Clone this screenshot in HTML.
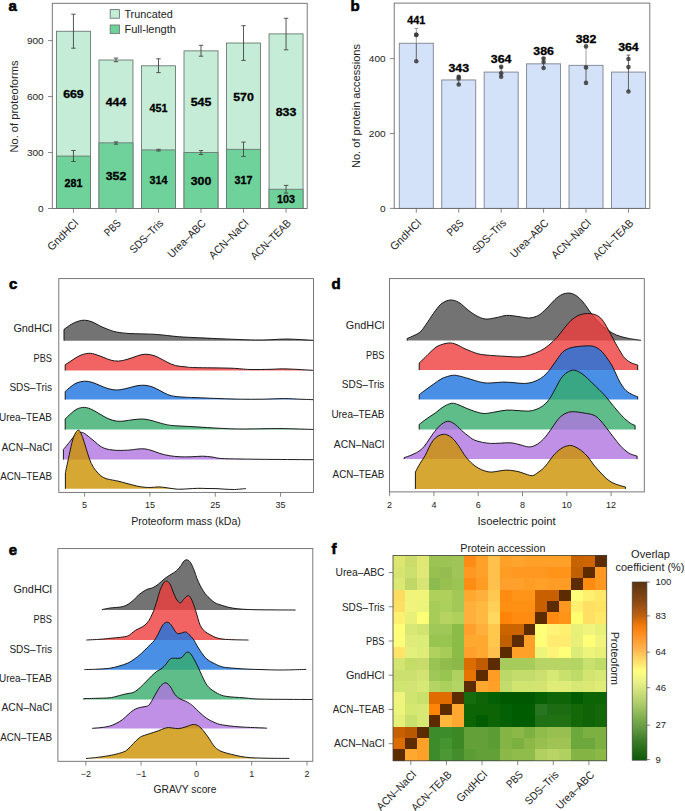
<!DOCTYPE html>
<html><head><meta charset="utf-8"><title>Figure</title>
<style>html,body{margin:0;padding:0;background:#fff;overflow:hidden;} svg{display:block;} text{font-family:"Liberation Sans",sans-serif;}</style>
</head><body>
<svg width="685" height="811" viewBox="0 0 685 811" font-family='"Liberation Sans", sans-serif'><text x="8.6" y="10.9" font-size="15" font-weight="bold" fill="#000" stroke="#000" stroke-width="0.6">a</text>
<text x="350.6" y="10.8" font-size="15" font-weight="bold" fill="#000" stroke="#000" stroke-width="0.6">b</text>
<text x="9.0" y="288.6" font-size="15" font-weight="bold" fill="#000" stroke="#000" stroke-width="0.6">c</text>
<text x="331.4" y="288.6" font-size="15" font-weight="bold" fill="#000" stroke="#000" stroke-width="0.6">d</text>
<text x="8.8" y="554.8" font-size="15" font-weight="bold" fill="#000" stroke="#000" stroke-width="0.6">e</text>
<text x="331.6" y="554.3" font-size="15" font-weight="bold" fill="#000" stroke="#000" stroke-width="0.6">f</text>
<rect x="56.45" y="31.27" width="34.00" height="177.23" fill="#c5ecd6" stroke="#6b7a72" stroke-width="0.9" />
<rect x="56.45" y="156.08" width="34.00" height="52.42" fill="#6fd29b" stroke="#6b7a72" stroke-width="0.9" />
<rect x="98.97" y="60.00" width="34.00" height="148.50" fill="#c5ecd6" stroke="#6b7a72" stroke-width="0.9" />
<rect x="98.97" y="142.83" width="34.00" height="65.67" fill="#6fd29b" stroke="#6b7a72" stroke-width="0.9" />
<rect x="141.49" y="65.78" width="34.00" height="142.72" fill="#c5ecd6" stroke="#6b7a72" stroke-width="0.9" />
<rect x="141.49" y="149.92" width="34.00" height="58.58" fill="#6fd29b" stroke="#6b7a72" stroke-width="0.9" />
<rect x="184.01" y="50.86" width="34.00" height="157.64" fill="#c5ecd6" stroke="#6b7a72" stroke-width="0.9" />
<rect x="184.01" y="152.53" width="34.00" height="55.97" fill="#6fd29b" stroke="#6b7a72" stroke-width="0.9" />
<rect x="226.53" y="43.02" width="34.00" height="165.48" fill="#c5ecd6" stroke="#6b7a72" stroke-width="0.9" />
<rect x="226.53" y="149.36" width="34.00" height="59.14" fill="#6fd29b" stroke="#6b7a72" stroke-width="0.9" />
<rect x="269.05" y="33.88" width="34.00" height="174.62" fill="#c5ecd6" stroke="#6b7a72" stroke-width="0.9" />
<rect x="269.05" y="189.28" width="34.00" height="19.22" fill="#6fd29b" stroke="#6b7a72" stroke-width="0.9" />
<line x1="73.45" y1="14.20" x2="73.45" y2="48.20" stroke="#444" stroke-width="0.9" />
<line x1="71.25" y1="14.20" x2="75.65" y2="14.20" stroke="#444" stroke-width="0.9" />
<line x1="71.25" y1="48.20" x2="75.65" y2="48.20" stroke="#444" stroke-width="0.9" />
<line x1="73.45" y1="150.50" x2="73.45" y2="161.50" stroke="#444" stroke-width="0.9" />
<line x1="71.25" y1="150.50" x2="75.65" y2="150.50" stroke="#444" stroke-width="0.9" />
<line x1="71.25" y1="161.50" x2="75.65" y2="161.50" stroke="#444" stroke-width="0.9" />
<line x1="115.97" y1="58.10" x2="115.97" y2="61.70" stroke="#444" stroke-width="0.9" />
<line x1="113.77" y1="58.10" x2="118.17" y2="58.10" stroke="#444" stroke-width="0.9" />
<line x1="113.77" y1="61.70" x2="118.17" y2="61.70" stroke="#444" stroke-width="0.9" />
<line x1="115.97" y1="141.90" x2="115.97" y2="144.20" stroke="#444" stroke-width="0.9" />
<line x1="113.77" y1="141.90" x2="118.17" y2="141.90" stroke="#444" stroke-width="0.9" />
<line x1="113.77" y1="144.20" x2="118.17" y2="144.20" stroke="#444" stroke-width="0.9" />
<line x1="158.49" y1="58.80" x2="158.49" y2="72.60" stroke="#444" stroke-width="0.9" />
<line x1="156.29" y1="58.80" x2="160.69" y2="58.80" stroke="#444" stroke-width="0.9" />
<line x1="156.29" y1="72.60" x2="160.69" y2="72.60" stroke="#444" stroke-width="0.9" />
<line x1="158.49" y1="149.30" x2="158.49" y2="151.00" stroke="#444" stroke-width="0.9" />
<line x1="156.29" y1="149.30" x2="160.69" y2="149.30" stroke="#444" stroke-width="0.9" />
<line x1="156.29" y1="151.00" x2="160.69" y2="151.00" stroke="#444" stroke-width="0.9" />
<line x1="201.01" y1="45.30" x2="201.01" y2="56.20" stroke="#444" stroke-width="0.9" />
<line x1="198.81" y1="45.30" x2="203.21" y2="45.30" stroke="#444" stroke-width="0.9" />
<line x1="198.81" y1="56.20" x2="203.21" y2="56.20" stroke="#444" stroke-width="0.9" />
<line x1="201.01" y1="150.60" x2="201.01" y2="154.50" stroke="#444" stroke-width="0.9" />
<line x1="198.81" y1="150.60" x2="203.21" y2="150.60" stroke="#444" stroke-width="0.9" />
<line x1="198.81" y1="154.50" x2="203.21" y2="154.50" stroke="#444" stroke-width="0.9" />
<line x1="243.53" y1="25.70" x2="243.53" y2="60.40" stroke="#444" stroke-width="0.9" />
<line x1="241.33" y1="25.70" x2="245.73" y2="25.70" stroke="#444" stroke-width="0.9" />
<line x1="241.33" y1="60.40" x2="245.73" y2="60.40" stroke="#444" stroke-width="0.9" />
<line x1="243.53" y1="142.10" x2="243.53" y2="156.40" stroke="#444" stroke-width="0.9" />
<line x1="241.33" y1="142.10" x2="245.73" y2="142.10" stroke="#444" stroke-width="0.9" />
<line x1="241.33" y1="156.40" x2="245.73" y2="156.40" stroke="#444" stroke-width="0.9" />
<line x1="286.05" y1="18.30" x2="286.05" y2="49.80" stroke="#444" stroke-width="0.9" />
<line x1="283.85" y1="18.30" x2="288.25" y2="18.30" stroke="#444" stroke-width="0.9" />
<line x1="283.85" y1="49.80" x2="288.25" y2="49.80" stroke="#444" stroke-width="0.9" />
<line x1="286.05" y1="185.40" x2="286.05" y2="193.10" stroke="#444" stroke-width="0.9" />
<line x1="283.85" y1="185.40" x2="288.25" y2="185.40" stroke="#444" stroke-width="0.9" />
<line x1="283.85" y1="193.10" x2="288.25" y2="193.10" stroke="#444" stroke-width="0.9" />
<text x="73.45" y="98.25" font-size="10.4" text-anchor="middle" fill="#000" font-weight="bold" textLength="20.6" lengthAdjust="spacingAndGlyphs" stroke="#000" stroke-width="0.3">669</text>
<text x="73.45" y="186.87" font-size="10.4" text-anchor="middle" fill="#000" font-weight="bold" textLength="18.0" lengthAdjust="spacingAndGlyphs" stroke="#000" stroke-width="0.3">281</text>
<text x="115.97" y="105.99" font-size="10.4" text-anchor="middle" fill="#000" font-weight="bold" textLength="20.6" lengthAdjust="spacingAndGlyphs" stroke="#000" stroke-width="0.3">444</text>
<text x="115.97" y="180.24" font-size="10.4" text-anchor="middle" fill="#000" font-weight="bold" textLength="20.6" lengthAdjust="spacingAndGlyphs" stroke="#000" stroke-width="0.3">352</text>
<text x="158.49" y="112.43" font-size="10.4" text-anchor="middle" fill="#000" font-weight="bold" textLength="18.0" lengthAdjust="spacingAndGlyphs" stroke="#000" stroke-width="0.3">451</text>
<text x="158.49" y="183.79" font-size="10.4" text-anchor="middle" fill="#000" font-weight="bold" textLength="18.0" lengthAdjust="spacingAndGlyphs" stroke="#000" stroke-width="0.3">314</text>
<text x="201.01" y="106.27" font-size="10.4" text-anchor="middle" fill="#000" font-weight="bold" textLength="20.6" lengthAdjust="spacingAndGlyphs" stroke="#000" stroke-width="0.3">545</text>
<text x="201.01" y="185.09" font-size="10.4" text-anchor="middle" fill="#000" font-weight="bold" textLength="20.6" lengthAdjust="spacingAndGlyphs" stroke="#000" stroke-width="0.3">300</text>
<text x="243.53" y="100.77" font-size="10.4" text-anchor="middle" fill="#000" font-weight="bold" textLength="20.6" lengthAdjust="spacingAndGlyphs" stroke="#000" stroke-width="0.3">570</text>
<text x="243.53" y="183.51" font-size="10.4" text-anchor="middle" fill="#000" font-weight="bold" textLength="18.0" lengthAdjust="spacingAndGlyphs" stroke="#000" stroke-width="0.3">317</text>
<text x="286.05" y="116.16" font-size="10.4" text-anchor="middle" fill="#000" font-weight="bold" textLength="20.6" lengthAdjust="spacingAndGlyphs" stroke="#000" stroke-width="0.3">833</text>
<text x="286.05" y="203.47" font-size="10.4" text-anchor="middle" fill="#000" font-weight="bold" textLength="18.0" lengthAdjust="spacingAndGlyphs" stroke="#000" stroke-width="0.3">103</text>
<rect x="52.30" y="3.30" width="254.90" height="205.20" fill="none" stroke="#6a6a6a" stroke-width="0.9" />
<line x1="48.00" y1="208.50" x2="52.30" y2="208.50" stroke="#6a6a6a" stroke-width="0.8" />
<text x="43.70" y="211.87" font-size="9.8" text-anchor="end" fill="#222" textLength="5.6" lengthAdjust="spacingAndGlyphs" >0</text>
<line x1="48.00" y1="152.53" x2="52.30" y2="152.53" stroke="#6a6a6a" stroke-width="0.8" />
<text x="43.70" y="155.90" font-size="9.8" text-anchor="end" fill="#222" textLength="16.799999999999997" lengthAdjust="spacingAndGlyphs" >300</text>
<line x1="48.00" y1="96.56" x2="52.30" y2="96.56" stroke="#6a6a6a" stroke-width="0.8" />
<text x="43.70" y="99.94" font-size="9.8" text-anchor="end" fill="#222" textLength="16.799999999999997" lengthAdjust="spacingAndGlyphs" >600</text>
<line x1="48.00" y1="40.60" x2="52.30" y2="40.60" stroke="#6a6a6a" stroke-width="0.8" />
<text x="43.70" y="43.97" font-size="9.8" text-anchor="end" fill="#222" textLength="16.799999999999997" lengthAdjust="spacingAndGlyphs" >900</text>
<line x1="73.45" y1="208.50" x2="73.45" y2="212.80" stroke="#6a6a6a" stroke-width="0.8" />
<line x1="115.97" y1="208.50" x2="115.97" y2="212.80" stroke="#6a6a6a" stroke-width="0.8" />
<line x1="158.49" y1="208.50" x2="158.49" y2="212.80" stroke="#6a6a6a" stroke-width="0.8" />
<line x1="201.01" y1="208.50" x2="201.01" y2="212.80" stroke="#6a6a6a" stroke-width="0.8" />
<line x1="243.53" y1="208.50" x2="243.53" y2="212.80" stroke="#6a6a6a" stroke-width="0.8" />
<line x1="286.05" y1="208.50" x2="286.05" y2="212.80" stroke="#6a6a6a" stroke-width="0.8" />
<text x="14.00" y="110.18" font-size="10.7" text-anchor="middle" fill="#222" textLength="92" lengthAdjust="spacingAndGlyphs" transform="rotate(-90 14.00 106.50)" >No. of proteoforms</text>
<rect x="110.20" y="9.60" width="9.20" height="8.60" fill="#c5ecd6" stroke="#6b7a72" stroke-width="0.9" />
<rect x="110.20" y="25.00" width="9.20" height="8.60" fill="#6fd29b" stroke="#6b7a72" stroke-width="0.9" />
<text x="124.40" y="17.58" font-size="10.7" text-anchor="start" fill="#222" textLength="48.4" lengthAdjust="spacingAndGlyphs" >Truncated</text>
<text x="124.40" y="32.98" font-size="10.7" text-anchor="start" fill="#222" textLength="51.6" lengthAdjust="spacingAndGlyphs" >Full-length</text>
<text x="79.05" y="223.90" font-size="11.0" text-anchor="end" fill="#222" textLength="38.6" lengthAdjust="spacingAndGlyphs" transform="rotate(-45 79.05 223.90)">GndHCl</text>
<text x="121.57" y="223.90" font-size="11.0" text-anchor="end" fill="#222" textLength="18.4" lengthAdjust="spacingAndGlyphs" transform="rotate(-45 121.57 223.90)">PBS</text>
<text x="164.09" y="223.90" font-size="11.0" text-anchor="end" fill="#222" textLength="42.6" lengthAdjust="spacingAndGlyphs" transform="rotate(-45 164.09 223.90)">SDS–Tris</text>
<text x="206.61" y="223.90" font-size="11.0" text-anchor="end" fill="#222" textLength="49.0" lengthAdjust="spacingAndGlyphs" transform="rotate(-45 206.61 223.90)">Urea–ABC</text>
<text x="249.13" y="223.90" font-size="11.0" text-anchor="end" fill="#222" textLength="50.6" lengthAdjust="spacingAndGlyphs" transform="rotate(-45 249.13 223.90)">ACN–NaCl</text>
<text x="291.65" y="223.90" font-size="11.0" text-anchor="end" fill="#222" textLength="51.8" lengthAdjust="spacingAndGlyphs" transform="rotate(-45 291.65 223.90)">ACN–TEAB</text>
<rect x="399.30" y="43.25" width="34.00" height="165.15" fill="#d3e1f9" stroke="#7d8290" stroke-width="0.9" />
<rect x="441.73" y="79.95" width="34.00" height="128.45" fill="#d3e1f9" stroke="#7d8290" stroke-width="0.9" />
<rect x="484.16" y="72.08" width="34.00" height="136.32" fill="#d3e1f9" stroke="#7d8290" stroke-width="0.9" />
<rect x="526.59" y="63.84" width="34.00" height="144.56" fill="#d3e1f9" stroke="#7d8290" stroke-width="0.9" />
<rect x="569.02" y="65.34" width="34.00" height="143.06" fill="#d3e1f9" stroke="#7d8290" stroke-width="0.9" />
<rect x="611.45" y="72.08" width="34.00" height="136.32" fill="#d3e1f9" stroke="#7d8290" stroke-width="0.9" />
<line x1="416.30" y1="28.40" x2="416.30" y2="43.25" stroke="#a0a0a0" stroke-width="1.0" />
<line x1="416.30" y1="43.25" x2="416.30" y2="61.30" stroke="#555" stroke-width="0.9" />
<line x1="414.50" y1="28.40" x2="418.10" y2="28.40" stroke="#888" stroke-width="0.9" />
<circle cx="416.30" cy="34.70" r="2.3" fill="#3a3a3a" fill-opacity="0.85"/>
<circle cx="416.30" cy="34.90" r="2.3" fill="#3a3a3a" fill-opacity="0.85"/>
<circle cx="416.30" cy="61.30" r="2.3" fill="#3a3a3a" fill-opacity="0.85"/>
<text x="416.30" y="23.98" font-size="10.4" text-anchor="middle" fill="#000" font-weight="bold" textLength="18.0" lengthAdjust="spacingAndGlyphs" stroke="#000" stroke-width="0.3">441</text>
<line x1="458.73" y1="76.00" x2="458.73" y2="84.50" stroke="#555" stroke-width="0.9" />
<line x1="456.93" y1="76.00" x2="460.53" y2="76.00" stroke="#555" stroke-width="0.9" />
<circle cx="458.73" cy="76.90" r="2.3" fill="#3a3a3a" fill-opacity="0.85"/>
<circle cx="458.73" cy="78.50" r="2.3" fill="#3a3a3a" fill-opacity="0.85"/>
<circle cx="458.73" cy="84.50" r="2.3" fill="#3a3a3a" fill-opacity="0.85"/>
<text x="458.73" y="71.98" font-size="10.4" text-anchor="middle" fill="#000" font-weight="bold" textLength="20.6" lengthAdjust="spacingAndGlyphs" stroke="#000" stroke-width="0.3">343</text>
<line x1="501.16" y1="66.90" x2="501.16" y2="76.70" stroke="#555" stroke-width="0.9" />
<line x1="499.36" y1="66.90" x2="502.96" y2="66.90" stroke="#555" stroke-width="0.9" />
<circle cx="501.16" cy="66.90" r="2.3" fill="#3a3a3a" fill-opacity="0.85"/>
<circle cx="501.16" cy="73.20" r="2.3" fill="#3a3a3a" fill-opacity="0.85"/>
<circle cx="501.16" cy="76.70" r="2.3" fill="#3a3a3a" fill-opacity="0.85"/>
<text x="501.16" y="62.98" font-size="10.4" text-anchor="middle" fill="#000" font-weight="bold" textLength="20.6" lengthAdjust="spacingAndGlyphs" stroke="#000" stroke-width="0.3">364</text>
<line x1="543.59" y1="57.60" x2="543.59" y2="68.00" stroke="#555" stroke-width="0.9" />
<line x1="541.79" y1="57.60" x2="545.39" y2="57.60" stroke="#555" stroke-width="0.9" />
<circle cx="543.59" cy="58.60" r="2.3" fill="#3a3a3a" fill-opacity="0.85"/>
<circle cx="543.59" cy="62.10" r="2.3" fill="#3a3a3a" fill-opacity="0.85"/>
<circle cx="543.59" cy="68.00" r="2.3" fill="#3a3a3a" fill-opacity="0.85"/>
<text x="543.59" y="55.18" font-size="10.4" text-anchor="middle" fill="#000" font-weight="bold" textLength="20.6" lengthAdjust="spacingAndGlyphs" stroke="#000" stroke-width="0.3">386</text>
<line x1="586.02" y1="46.40" x2="586.02" y2="65.34" stroke="#a0a0a0" stroke-width="1.0" />
<line x1="586.02" y1="65.34" x2="586.02" y2="82.90" stroke="#555" stroke-width="0.9" />
<line x1="584.22" y1="46.40" x2="587.82" y2="46.40" stroke="#888" stroke-width="0.9" />
<circle cx="586.02" cy="46.40" r="2.3" fill="#3a3a3a" fill-opacity="0.85"/>
<circle cx="586.02" cy="67.40" r="2.3" fill="#3a3a3a" fill-opacity="0.85"/>
<circle cx="586.02" cy="82.90" r="2.3" fill="#3a3a3a" fill-opacity="0.85"/>
<text x="586.02" y="42.78" font-size="10.4" text-anchor="middle" fill="#000" font-weight="bold" textLength="20.6" lengthAdjust="spacingAndGlyphs" stroke="#000" stroke-width="0.3">382</text>
<line x1="628.45" y1="55.10" x2="628.45" y2="91.50" stroke="#555" stroke-width="0.9" />
<line x1="626.65" y1="55.10" x2="630.25" y2="55.10" stroke="#555" stroke-width="0.9" />
<circle cx="628.45" cy="59.00" r="2.3" fill="#3a3a3a" fill-opacity="0.85"/>
<circle cx="628.45" cy="67.10" r="2.3" fill="#3a3a3a" fill-opacity="0.85"/>
<circle cx="628.45" cy="91.50" r="2.3" fill="#3a3a3a" fill-opacity="0.85"/>
<text x="628.45" y="51.08" font-size="10.4" text-anchor="middle" fill="#000" font-weight="bold" textLength="20.6" lengthAdjust="spacingAndGlyphs" stroke="#000" stroke-width="0.3">364</text>
<rect x="394.20" y="3.10" width="255.60" height="205.30" fill="none" stroke="#6a6a6a" stroke-width="0.9" />
<line x1="389.90" y1="208.40" x2="394.20" y2="208.40" stroke="#6a6a6a" stroke-width="0.8" />
<text x="385.60" y="211.77" font-size="9.8" text-anchor="end" fill="#222" textLength="5.6" lengthAdjust="spacingAndGlyphs" >0</text>
<line x1="389.90" y1="133.50" x2="394.20" y2="133.50" stroke="#6a6a6a" stroke-width="0.8" />
<text x="385.60" y="136.87" font-size="9.8" text-anchor="end" fill="#222" textLength="16.799999999999997" lengthAdjust="spacingAndGlyphs" >200</text>
<line x1="389.90" y1="58.60" x2="394.20" y2="58.60" stroke="#6a6a6a" stroke-width="0.8" />
<text x="385.60" y="61.97" font-size="9.8" text-anchor="end" fill="#222" textLength="16.799999999999997" lengthAdjust="spacingAndGlyphs" >400</text>
<line x1="416.30" y1="208.40" x2="416.30" y2="212.70" stroke="#6a6a6a" stroke-width="0.8" />
<line x1="458.73" y1="208.40" x2="458.73" y2="212.70" stroke="#6a6a6a" stroke-width="0.8" />
<line x1="501.16" y1="208.40" x2="501.16" y2="212.70" stroke="#6a6a6a" stroke-width="0.8" />
<line x1="543.59" y1="208.40" x2="543.59" y2="212.70" stroke="#6a6a6a" stroke-width="0.8" />
<line x1="586.02" y1="208.40" x2="586.02" y2="212.70" stroke="#6a6a6a" stroke-width="0.8" />
<line x1="628.45" y1="208.40" x2="628.45" y2="212.70" stroke="#6a6a6a" stroke-width="0.8" />
<text x="356.30" y="109.68" font-size="10.7" text-anchor="middle" fill="#222" textLength="124" lengthAdjust="spacingAndGlyphs" transform="rotate(-90 356.30 106.00)" >No. of protein accessions</text>
<text x="421.90" y="223.80" font-size="11.0" text-anchor="end" fill="#222" textLength="38.6" lengthAdjust="spacingAndGlyphs" transform="rotate(-45 421.90 223.80)">GndHCl</text>
<text x="464.33" y="223.80" font-size="11.0" text-anchor="end" fill="#222" textLength="18.4" lengthAdjust="spacingAndGlyphs" transform="rotate(-45 464.33 223.80)">PBS</text>
<text x="506.76" y="223.80" font-size="11.0" text-anchor="end" fill="#222" textLength="42.6" lengthAdjust="spacingAndGlyphs" transform="rotate(-45 506.76 223.80)">SDS–Tris</text>
<text x="549.19" y="223.80" font-size="11.0" text-anchor="end" fill="#222" textLength="49.0" lengthAdjust="spacingAndGlyphs" transform="rotate(-45 549.19 223.80)">Urea–ABC</text>
<text x="591.62" y="223.80" font-size="11.0" text-anchor="end" fill="#222" textLength="50.6" lengthAdjust="spacingAndGlyphs" transform="rotate(-45 591.62 223.80)">ACN–NaCl</text>
<text x="634.05" y="223.80" font-size="11.0" text-anchor="end" fill="#222" textLength="51.8" lengthAdjust="spacingAndGlyphs" transform="rotate(-45 634.05 223.80)">ACN–TEAB</text>
<clipPath id="clipc"><rect x="58.8" y="278.6" width="254.7" height="213.79999999999995"/></clipPath>
<path d="M64.00,340.70 L64.00,329.40 C65.22,328.55 68.97,325.65 71.30,324.30 C73.63,322.95 75.78,321.98 78.00,321.30 C80.22,320.62 82.27,320.12 84.60,320.20 C86.93,320.28 89.43,320.83 92.00,321.80 C94.57,322.77 97.32,324.73 100.00,326.00 C102.68,327.27 105.38,328.40 108.10,329.40 C110.82,330.40 112.82,331.32 116.30,332.00 C119.78,332.68 124.57,333.18 129.00,333.50 C133.43,333.82 138.20,333.73 142.90,333.90 C147.60,334.07 151.42,334.05 157.20,334.50 C162.98,334.95 171.30,336.08 177.60,336.60 C183.90,337.12 186.10,337.17 195.00,337.60 C203.90,338.03 220.90,338.80 231.00,339.20 C241.10,339.60 248.93,339.92 255.60,340.00 C262.27,340.08 265.88,339.87 271.00,339.70 C276.12,339.53 281.47,339.02 286.30,339.00 C291.13,338.98 295.30,339.37 300.00,339.60 C304.70,339.83 312.08,340.27 314.50,340.40 L314.50,340.70 Z" fill="rgb(80,80,80)" fill-opacity="0.8" stroke="none" clip-path="url(#clipc)"/>
<path d="M64.00,340.70 L64.00,329.40 C65.22,328.55 68.97,325.65 71.30,324.30 C73.63,322.95 75.78,321.98 78.00,321.30 C80.22,320.62 82.27,320.12 84.60,320.20 C86.93,320.28 89.43,320.83 92.00,321.80 C94.57,322.77 97.32,324.73 100.00,326.00 C102.68,327.27 105.38,328.40 108.10,329.40 C110.82,330.40 112.82,331.32 116.30,332.00 C119.78,332.68 124.57,333.18 129.00,333.50 C133.43,333.82 138.20,333.73 142.90,333.90 C147.60,334.07 151.42,334.05 157.20,334.50 C162.98,334.95 171.30,336.08 177.60,336.60 C183.90,337.12 186.10,337.17 195.00,337.60 C203.90,338.03 220.90,338.80 231.00,339.20 C241.10,339.60 248.93,339.92 255.60,340.00 C262.27,340.08 265.88,339.87 271.00,339.70 C276.12,339.53 281.47,339.02 286.30,339.00 C291.13,338.98 295.30,339.37 300.00,339.60 C304.70,339.83 312.08,340.27 314.50,340.40 L314.50,340.70" fill="none" stroke="#111" stroke-width="0.95" stroke-linejoin="round" clip-path="url(#clipc)"/>
<path d="M65.20,370.50 L65.20,364.80 C66.33,364.05 69.53,361.85 72.00,360.30 C74.47,358.75 77.22,356.67 80.00,355.50 C82.78,354.33 86.03,353.45 88.70,353.30 C91.37,353.15 93.45,353.88 96.00,354.60 C98.55,355.32 101.50,356.67 104.00,357.60 C106.50,358.53 108.60,359.62 111.00,360.20 C113.40,360.78 115.90,361.18 118.40,361.10 C120.90,361.02 123.40,360.37 126.00,359.70 C128.60,359.03 131.50,357.92 134.00,357.10 C136.50,356.28 138.83,355.27 141.00,354.80 C143.17,354.33 144.83,354.17 147.00,354.30 C149.17,354.43 151.67,354.83 154.00,355.60 C156.33,356.37 158.67,357.73 161.00,358.90 C163.33,360.07 165.57,361.48 168.00,362.60 C170.43,363.72 172.77,364.90 175.60,365.60 C178.43,366.30 181.77,366.47 185.00,366.80 C188.23,367.13 187.33,367.37 195.00,367.60 C202.67,367.83 221.83,367.88 231.00,368.20 C240.17,368.52 243.50,369.32 250.00,369.50 C256.50,369.68 264.00,369.40 270.00,369.30 C276.00,369.20 278.58,368.72 286.00,368.90 C293.42,369.08 309.75,370.15 314.50,370.40 L314.50,370.50 Z" fill="rgb(239,61,61)" fill-opacity="0.8" stroke="none" clip-path="url(#clipc)"/>
<path d="M65.20,370.50 L65.20,364.80 C66.33,364.05 69.53,361.85 72.00,360.30 C74.47,358.75 77.22,356.67 80.00,355.50 C82.78,354.33 86.03,353.45 88.70,353.30 C91.37,353.15 93.45,353.88 96.00,354.60 C98.55,355.32 101.50,356.67 104.00,357.60 C106.50,358.53 108.60,359.62 111.00,360.20 C113.40,360.78 115.90,361.18 118.40,361.10 C120.90,361.02 123.40,360.37 126.00,359.70 C128.60,359.03 131.50,357.92 134.00,357.10 C136.50,356.28 138.83,355.27 141.00,354.80 C143.17,354.33 144.83,354.17 147.00,354.30 C149.17,354.43 151.67,354.83 154.00,355.60 C156.33,356.37 158.67,357.73 161.00,358.90 C163.33,360.07 165.57,361.48 168.00,362.60 C170.43,363.72 172.77,364.90 175.60,365.60 C178.43,366.30 181.77,366.47 185.00,366.80 C188.23,367.13 187.33,367.37 195.00,367.60 C202.67,367.83 221.83,367.88 231.00,368.20 C240.17,368.52 243.50,369.32 250.00,369.50 C256.50,369.68 264.00,369.40 270.00,369.30 C276.00,369.20 278.58,368.72 286.00,368.90 C293.42,369.08 309.75,370.15 314.50,370.40 L314.50,370.50" fill="none" stroke="#111" stroke-width="0.95" stroke-linejoin="round" clip-path="url(#clipc)"/>
<path d="M65.20,399.60 L65.20,391.50 C66.17,390.67 69.03,387.95 71.00,386.50 C72.97,385.05 74.73,383.68 77.00,382.80 C79.27,381.92 82.10,381.28 84.60,381.20 C87.10,381.12 89.43,381.58 92.00,382.30 C94.57,383.02 97.33,384.45 100.00,385.50 C102.67,386.55 105.28,387.85 108.00,388.60 C110.72,389.35 113.63,389.93 116.30,390.00 C118.97,390.07 121.38,389.50 124.00,389.00 C126.62,388.50 129.67,387.57 132.00,387.00 C134.33,386.43 135.83,385.88 138.00,385.60 C140.17,385.32 142.67,385.10 145.00,385.30 C147.33,385.50 149.50,385.92 152.00,386.80 C154.50,387.68 157.67,389.43 160.00,390.60 C162.33,391.77 163.75,392.87 166.00,393.80 C168.25,394.73 170.33,395.63 173.50,396.20 C176.67,396.77 181.42,396.97 185.00,397.20 C188.58,397.43 189.17,397.37 195.00,397.60 C200.83,397.83 212.28,398.33 220.00,398.60 C227.72,398.87 234.30,399.10 241.30,399.20 C248.30,399.30 254.85,399.30 262.00,399.20 C269.15,399.10 277.87,398.60 284.20,398.60 C290.53,398.60 294.95,399.03 300.00,399.20 C305.05,399.37 312.08,399.53 314.50,399.60 L314.50,399.60 Z" fill="rgb(28,115,224)" fill-opacity="0.8" stroke="none" clip-path="url(#clipc)"/>
<path d="M65.20,399.60 L65.20,391.50 C66.17,390.67 69.03,387.95 71.00,386.50 C72.97,385.05 74.73,383.68 77.00,382.80 C79.27,381.92 82.10,381.28 84.60,381.20 C87.10,381.12 89.43,381.58 92.00,382.30 C94.57,383.02 97.33,384.45 100.00,385.50 C102.67,386.55 105.28,387.85 108.00,388.60 C110.72,389.35 113.63,389.93 116.30,390.00 C118.97,390.07 121.38,389.50 124.00,389.00 C126.62,388.50 129.67,387.57 132.00,387.00 C134.33,386.43 135.83,385.88 138.00,385.60 C140.17,385.32 142.67,385.10 145.00,385.30 C147.33,385.50 149.50,385.92 152.00,386.80 C154.50,387.68 157.67,389.43 160.00,390.60 C162.33,391.77 163.75,392.87 166.00,393.80 C168.25,394.73 170.33,395.63 173.50,396.20 C176.67,396.77 181.42,396.97 185.00,397.20 C188.58,397.43 189.17,397.37 195.00,397.60 C200.83,397.83 212.28,398.33 220.00,398.60 C227.72,398.87 234.30,399.10 241.30,399.20 C248.30,399.30 254.85,399.30 262.00,399.20 C269.15,399.10 277.87,398.60 284.20,398.60 C290.53,398.60 294.95,399.02 300.00,399.20 C305.05,399.38 312.08,399.62 314.50,399.70 L314.50,399.60" fill="none" stroke="#111" stroke-width="0.95" stroke-linejoin="round" clip-path="url(#clipc)"/>
<path d="M65.20,429.60 L65.20,419.00 C66.17,418.08 69.03,415.17 71.00,413.50 C72.97,411.83 74.73,410.02 77.00,409.00 C79.27,407.98 82.10,407.30 84.60,407.40 C87.10,407.50 89.43,408.47 92.00,409.60 C94.57,410.73 97.33,412.70 100.00,414.20 C102.67,415.70 105.28,417.45 108.00,418.60 C110.72,419.75 113.63,420.70 116.30,421.10 C118.97,421.50 121.22,421.23 124.00,421.00 C126.78,420.77 129.85,420.03 133.00,419.70 C136.15,419.37 139.90,418.88 142.90,419.00 C145.90,419.12 148.15,419.73 151.00,420.40 C153.85,421.07 157.50,422.32 160.00,423.00 C162.50,423.68 163.75,424.07 166.00,424.50 C168.25,424.93 168.67,425.22 173.50,425.60 C178.33,425.98 187.25,426.35 195.00,426.80 C202.75,427.25 212.33,427.93 220.00,428.30 C227.67,428.67 231.00,428.95 241.00,429.00 C251.00,429.05 267.75,428.52 280.00,428.60 C292.25,428.68 308.75,429.35 314.50,429.50 L314.50,429.60 Z" fill="rgb(54,172,106)" fill-opacity="0.8" stroke="none" clip-path="url(#clipc)"/>
<path d="M65.20,429.60 L65.20,419.00 C66.17,418.08 69.03,415.17 71.00,413.50 C72.97,411.83 74.73,410.02 77.00,409.00 C79.27,407.98 82.10,407.30 84.60,407.40 C87.10,407.50 89.43,408.47 92.00,409.60 C94.57,410.73 97.33,412.70 100.00,414.20 C102.67,415.70 105.28,417.45 108.00,418.60 C110.72,419.75 113.63,420.70 116.30,421.10 C118.97,421.50 121.22,421.23 124.00,421.00 C126.78,420.77 129.85,420.03 133.00,419.70 C136.15,419.37 139.90,418.88 142.90,419.00 C145.90,419.12 148.15,419.73 151.00,420.40 C153.85,421.07 157.50,422.32 160.00,423.00 C162.50,423.68 163.75,424.07 166.00,424.50 C168.25,424.93 168.67,425.22 173.50,425.60 C178.33,425.98 187.25,426.35 195.00,426.80 C202.75,427.25 212.33,427.93 220.00,428.30 C227.67,428.67 231.00,428.95 241.00,429.00 C251.00,429.05 267.75,428.52 280.00,428.60 C292.25,428.68 308.75,429.35 314.50,429.50 L314.50,429.60" fill="none" stroke="#111" stroke-width="0.95" stroke-linejoin="round" clip-path="url(#clipc)"/>
<path d="M63.40,459.60 L63.40,449.50 C64.25,448.48 66.85,445.43 68.50,443.40 C70.15,441.37 71.80,438.97 73.30,437.30 C74.80,435.63 76.18,434.22 77.50,433.40 C78.82,432.58 80.07,432.42 81.20,432.40 C82.33,432.38 82.92,432.48 84.30,433.30 C85.68,434.12 87.75,435.92 89.50,437.30 C91.25,438.68 93.05,440.15 94.80,441.60 C96.55,443.05 97.97,444.75 100.00,446.00 C102.03,447.25 104.00,448.37 107.00,449.10 C110.00,449.83 114.17,450.25 118.00,450.40 C121.83,450.55 126.67,450.23 130.00,450.00 C133.33,449.77 135.52,449.18 138.00,449.00 C140.48,448.82 142.57,448.63 144.90,448.90 C147.23,449.17 149.48,449.83 152.00,450.60 C154.52,451.37 157.10,452.65 160.00,453.50 C162.90,454.35 166.07,455.15 169.40,455.70 C172.73,456.25 176.40,456.62 180.00,456.80 C183.60,456.98 187.25,456.90 191.00,456.80 C194.75,456.70 199.00,456.17 202.50,456.20 C206.00,456.23 208.93,456.62 212.00,457.00 C215.07,457.38 216.23,458.17 220.90,458.50 C225.57,458.83 231.82,458.85 240.00,459.00 C248.18,459.15 257.58,459.30 270.00,459.40 C282.42,459.50 307.08,459.57 314.50,459.60 L314.50,459.60 Z" fill="rgb(176,116,224)" fill-opacity="0.8" stroke="none" clip-path="url(#clipc)"/>
<path d="M63.40,459.60 L63.40,449.50 C64.25,448.48 66.85,445.43 68.50,443.40 C70.15,441.37 71.80,438.97 73.30,437.30 C74.80,435.63 76.18,434.22 77.50,433.40 C78.82,432.58 80.07,432.42 81.20,432.40 C82.33,432.38 82.92,432.48 84.30,433.30 C85.68,434.12 87.75,435.92 89.50,437.30 C91.25,438.68 93.05,440.15 94.80,441.60 C96.55,443.05 97.97,444.75 100.00,446.00 C102.03,447.25 104.00,448.37 107.00,449.10 C110.00,449.83 114.17,450.25 118.00,450.40 C121.83,450.55 126.67,450.23 130.00,450.00 C133.33,449.77 135.52,449.18 138.00,449.00 C140.48,448.82 142.57,448.63 144.90,448.90 C147.23,449.17 149.48,449.83 152.00,450.60 C154.52,451.37 157.10,452.65 160.00,453.50 C162.90,454.35 166.07,455.15 169.40,455.70 C172.73,456.25 176.40,456.62 180.00,456.80 C183.60,456.98 187.25,456.90 191.00,456.80 C194.75,456.70 199.00,456.17 202.50,456.20 C206.00,456.23 208.93,456.62 212.00,457.00 C215.07,457.38 216.23,458.17 220.90,458.50 C225.57,458.83 231.82,458.85 240.00,459.00 C248.18,459.15 257.58,459.28 270.00,459.40 C282.42,459.52 307.08,459.65 314.50,459.70 L314.50,459.60" fill="none" stroke="#111" stroke-width="0.95" stroke-linejoin="round" clip-path="url(#clipc)"/>
<path d="M65.40,488.80 L65.40,472.70 C65.92,470.30 67.40,463.33 68.50,458.30 C69.60,453.27 70.98,446.45 72.00,442.50 C73.02,438.55 73.55,436.67 74.60,434.60 C75.65,432.53 77.20,430.23 78.30,430.10 C79.40,429.97 80.20,431.73 81.20,433.80 C82.20,435.87 83.20,439.15 84.30,442.50 C85.40,445.85 86.63,450.40 87.80,453.90 C88.97,457.40 89.98,460.73 91.30,463.50 C92.62,466.27 94.10,468.45 95.70,470.50 C97.30,472.55 99.02,474.40 100.90,475.80 C102.78,477.20 104.15,478.02 107.00,478.90 C109.85,479.78 114.67,480.33 118.00,481.10 C121.33,481.87 123.88,482.68 127.00,483.50 C130.12,484.32 133.87,485.38 136.70,486.00 C139.53,486.62 141.67,486.95 144.00,487.20 C146.33,487.45 148.23,487.55 150.70,487.50 C153.17,487.45 156.08,486.85 158.80,486.90 C161.52,486.95 163.93,487.48 167.00,487.80 C170.07,488.12 173.87,488.63 177.20,488.80 C180.53,488.97 183.58,488.88 187.00,488.80 C190.42,488.72 194.37,488.35 197.70,488.30 C201.03,488.25 203.95,488.45 207.00,488.50 C210.05,488.55 213.00,488.55 216.00,488.60 C219.00,488.65 221.92,488.77 225.00,488.80 C228.08,488.83 231.83,488.80 234.50,488.80 C237.17,488.80 239.13,488.83 241.00,488.80 C242.87,488.77 244.92,488.63 245.70,488.60 L245.70,488.80 Z" fill="rgb(204,146,0)" fill-opacity="0.8" stroke="none" clip-path="url(#clipc)"/>
<path d="M65.40,488.80 L65.40,472.70 C65.92,470.30 67.40,463.33 68.50,458.30 C69.60,453.27 70.98,446.45 72.00,442.50 C73.02,438.55 73.55,436.67 74.60,434.60 C75.65,432.53 77.20,430.23 78.30,430.10 C79.40,429.97 80.20,431.73 81.20,433.80 C82.20,435.87 83.20,439.15 84.30,442.50 C85.40,445.85 86.63,450.40 87.80,453.90 C88.97,457.40 89.98,460.73 91.30,463.50 C92.62,466.27 94.10,468.45 95.70,470.50 C97.30,472.55 99.02,474.40 100.90,475.80 C102.78,477.20 104.15,478.02 107.00,478.90 C109.85,479.78 114.67,480.33 118.00,481.10 C121.33,481.87 123.88,482.68 127.00,483.50 C130.12,484.32 133.87,485.38 136.70,486.00 C139.53,486.62 141.67,486.95 144.00,487.20 C146.33,487.45 148.23,487.55 150.70,487.50 C153.17,487.45 156.08,486.85 158.80,486.90 C161.52,486.95 163.93,487.42 167.00,487.80 C170.07,488.18 173.87,489.02 177.20,489.20 C180.53,489.38 183.58,489.05 187.00,488.90 C190.42,488.75 194.37,488.37 197.70,488.30 C201.03,488.23 203.95,488.45 207.00,488.50 C210.05,488.55 213.00,488.48 216.00,488.60 C219.00,488.72 221.92,489.05 225.00,489.20 C228.08,489.35 231.83,489.53 234.50,489.50 C237.17,489.47 239.13,489.15 241.00,489.00 C242.87,488.85 244.92,488.67 245.70,488.60 L245.70,488.80" fill="none" stroke="#111" stroke-width="0.95" stroke-linejoin="round" clip-path="url(#clipc)"/>
<rect x="58.80" y="278.60" width="254.70" height="213.80" fill="none" stroke="#6a6a6a" stroke-width="0.9" />
<text x="52.00" y="332.08" font-size="11.0" text-anchor="end" fill="#222" textLength="38.6" lengthAdjust="spacingAndGlyphs" >GndHCl</text>
<text x="52.00" y="361.88" font-size="11.0" text-anchor="end" fill="#222" textLength="18.4" lengthAdjust="spacingAndGlyphs" >PBS</text>
<text x="52.00" y="390.98" font-size="11.0" text-anchor="end" fill="#222" textLength="42.6" lengthAdjust="spacingAndGlyphs" >SDS–Tris</text>
<text x="52.00" y="420.98" font-size="11.0" text-anchor="end" fill="#222" textLength="53.0" lengthAdjust="spacingAndGlyphs" >Urea–TEAB</text>
<text x="52.00" y="450.98" font-size="11.0" text-anchor="end" fill="#222" textLength="50.6" lengthAdjust="spacingAndGlyphs" >ACN–NaCl</text>
<text x="52.00" y="480.18" font-size="11.0" text-anchor="end" fill="#222" textLength="51.8" lengthAdjust="spacingAndGlyphs" >ACN–TEAB</text>
<line x1="84.60" y1="492.40" x2="84.60" y2="496.70" stroke="#6a6a6a" stroke-width="0.8" />
<text x="84.60" y="507.90" font-size="9.0" text-anchor="middle" fill="#222" >5</text>
<line x1="149.93" y1="492.40" x2="149.93" y2="496.70" stroke="#6a6a6a" stroke-width="0.8" />
<text x="149.93" y="507.90" font-size="9.0" text-anchor="middle" fill="#222" >15</text>
<line x1="215.26" y1="492.40" x2="215.26" y2="496.70" stroke="#6a6a6a" stroke-width="0.8" />
<text x="215.26" y="507.90" font-size="9.0" text-anchor="middle" fill="#222" >25</text>
<line x1="280.59" y1="492.40" x2="280.59" y2="496.70" stroke="#6a6a6a" stroke-width="0.8" />
<text x="280.59" y="507.90" font-size="9.0" text-anchor="middle" fill="#222" >35</text>
<text x="186.00" y="525.18" font-size="10.7" text-anchor="middle" fill="#222" textLength="109.7" lengthAdjust="spacingAndGlyphs" >Proteoform mass (kDa)</text>
<clipPath id="clipd"><rect x="389.5" y="278.6" width="254.79999999999995" height="213.29999999999995"/></clipPath>
<path d="M407.20,340.50 L407.20,338.50 C408.33,338.00 411.72,336.70 414.00,335.50 C416.28,334.30 418.57,333.63 420.90,331.30 C423.23,328.97 425.62,324.90 428.00,321.50 C430.38,318.10 432.87,313.93 435.20,310.90 C437.53,307.87 439.45,305.12 442.00,303.30 C444.55,301.48 447.67,300.13 450.50,300.00 C453.33,299.87 456.10,300.85 459.00,302.50 C461.90,304.15 465.07,307.73 467.90,309.90 C470.73,312.07 473.10,313.98 476.00,315.50 C478.90,317.02 481.97,318.63 485.30,319.00 C488.63,319.37 492.43,318.30 496.00,317.70 C499.57,317.10 503.03,315.60 506.70,315.40 C510.37,315.20 514.38,316.07 518.00,316.50 C521.62,316.93 525.57,317.95 528.40,318.00 C531.23,318.05 532.95,317.48 535.00,316.80 C537.05,316.12 538.53,315.53 540.70,313.90 C542.87,312.27 545.62,309.40 548.00,307.00 C550.38,304.60 552.67,301.58 555.00,299.50 C557.33,297.42 559.62,295.57 562.00,294.50 C564.38,293.43 566.97,292.93 569.30,293.10 C571.63,293.27 573.72,294.02 576.00,295.50 C578.28,296.98 580.38,298.92 583.00,302.00 C585.62,305.08 589.03,310.58 591.70,314.00 C594.37,317.42 596.45,319.92 599.00,322.50 C601.55,325.08 604.12,327.42 607.00,329.50 C609.88,331.58 612.80,333.53 616.30,335.00 C619.80,336.47 623.92,337.42 628.00,338.30 C632.08,339.18 638.67,339.97 640.80,340.30 L640.80,340.50 Z" fill="rgb(80,80,80)" fill-opacity="0.8" stroke="none" clip-path="url(#clipd)"/>
<path d="M407.20,340.50 L407.20,338.50 C408.33,338.00 411.72,336.70 414.00,335.50 C416.28,334.30 418.57,333.63 420.90,331.30 C423.23,328.97 425.62,324.90 428.00,321.50 C430.38,318.10 432.87,313.93 435.20,310.90 C437.53,307.87 439.45,305.12 442.00,303.30 C444.55,301.48 447.67,300.13 450.50,300.00 C453.33,299.87 456.10,300.85 459.00,302.50 C461.90,304.15 465.07,307.73 467.90,309.90 C470.73,312.07 473.10,313.98 476.00,315.50 C478.90,317.02 481.97,318.63 485.30,319.00 C488.63,319.37 492.43,318.30 496.00,317.70 C499.57,317.10 503.03,315.60 506.70,315.40 C510.37,315.20 514.38,316.07 518.00,316.50 C521.62,316.93 525.57,317.95 528.40,318.00 C531.23,318.05 532.95,317.48 535.00,316.80 C537.05,316.12 538.53,315.53 540.70,313.90 C542.87,312.27 545.62,309.40 548.00,307.00 C550.38,304.60 552.67,301.58 555.00,299.50 C557.33,297.42 559.62,295.57 562.00,294.50 C564.38,293.43 566.97,292.93 569.30,293.10 C571.63,293.27 573.72,294.02 576.00,295.50 C578.28,296.98 580.38,298.92 583.00,302.00 C585.62,305.08 589.03,310.58 591.70,314.00 C594.37,317.42 596.45,319.92 599.00,322.50 C601.55,325.08 604.12,327.42 607.00,329.50 C609.88,331.58 612.80,333.53 616.30,335.00 C619.80,336.47 623.92,337.42 628.00,338.30 C632.08,339.18 638.67,339.97 640.80,340.30 L640.80,340.50" fill="none" stroke="#111" stroke-width="0.95" stroke-linejoin="round" clip-path="url(#clipd)"/>
<path d="M419.20,370.10 L419.20,363.00 C420.17,362.08 423.03,359.42 425.00,357.50 C426.97,355.58 428.83,353.42 431.00,351.50 C433.17,349.58 435.08,347.42 438.00,346.00 C440.92,344.58 445.50,343.28 448.50,343.00 C451.50,342.72 453.25,343.33 456.00,344.30 C458.75,345.27 461.32,347.22 465.00,348.80 C468.68,350.38 473.87,352.70 478.10,353.80 C482.33,354.90 485.92,354.98 490.40,355.40 C494.88,355.82 500.07,356.05 505.00,356.30 C509.93,356.55 515.77,357.15 520.00,356.90 C524.23,356.65 526.95,355.83 530.40,354.80 C533.85,353.77 537.60,352.33 540.70,350.70 C543.80,349.07 546.28,347.22 549.00,345.00 C551.72,342.78 554.50,340.15 557.00,337.40 C559.50,334.65 561.67,331.32 564.00,328.50 C566.33,325.68 568.50,322.72 571.00,320.50 C573.50,318.28 576.22,316.37 579.00,315.20 C581.78,314.03 584.87,313.53 587.70,313.50 C590.53,313.47 593.62,314.00 596.00,315.00 C598.38,316.00 599.98,317.12 602.00,319.50 C604.02,321.88 606.10,325.80 608.10,329.30 C610.10,332.80 612.02,336.88 614.00,340.50 C615.98,344.12 618.25,348.10 620.00,351.00 C621.75,353.90 622.67,355.93 624.50,357.90 C626.33,359.87 628.80,361.62 631.00,362.80 C633.20,363.98 636.58,364.63 637.70,365.00 L637.70,370.10 Z" fill="rgb(239,61,61)" fill-opacity="0.8" stroke="none" clip-path="url(#clipd)"/>
<path d="M419.20,370.10 L419.20,363.00 C420.17,362.08 423.03,359.42 425.00,357.50 C426.97,355.58 428.83,353.42 431.00,351.50 C433.17,349.58 435.08,347.42 438.00,346.00 C440.92,344.58 445.50,343.28 448.50,343.00 C451.50,342.72 453.25,343.33 456.00,344.30 C458.75,345.27 461.32,347.22 465.00,348.80 C468.68,350.38 473.87,352.70 478.10,353.80 C482.33,354.90 485.92,354.98 490.40,355.40 C494.88,355.82 500.07,356.05 505.00,356.30 C509.93,356.55 515.77,357.15 520.00,356.90 C524.23,356.65 526.95,355.83 530.40,354.80 C533.85,353.77 537.60,352.33 540.70,350.70 C543.80,349.07 546.28,347.22 549.00,345.00 C551.72,342.78 554.50,340.15 557.00,337.40 C559.50,334.65 561.67,331.32 564.00,328.50 C566.33,325.68 568.50,322.72 571.00,320.50 C573.50,318.28 576.22,316.37 579.00,315.20 C581.78,314.03 584.87,313.53 587.70,313.50 C590.53,313.47 593.62,314.00 596.00,315.00 C598.38,316.00 599.98,317.12 602.00,319.50 C604.02,321.88 606.10,325.80 608.10,329.30 C610.10,332.80 612.02,336.88 614.00,340.50 C615.98,344.12 618.25,348.10 620.00,351.00 C621.75,353.90 622.67,355.93 624.50,357.90 C626.33,359.87 628.80,361.62 631.00,362.80 C633.20,363.98 636.58,364.63 637.70,365.00 L637.70,370.10" fill="none" stroke="#111" stroke-width="0.95" stroke-linejoin="round" clip-path="url(#clipd)"/>
<path d="M419.20,399.40 L419.20,394.70 C420.33,393.83 423.68,391.20 426.00,389.50 C428.32,387.80 430.43,386.33 433.10,384.50 C435.77,382.67 438.75,380.03 442.00,378.50 C445.25,376.97 449.60,375.68 452.60,375.30 C455.60,374.92 457.45,375.68 460.00,376.20 C462.55,376.72 464.20,377.35 467.90,378.40 C471.60,379.45 478.18,381.75 482.20,382.50 C486.22,383.25 488.60,382.97 492.00,382.90 C495.40,382.83 499.10,382.15 502.60,382.10 C506.10,382.05 509.38,382.37 513.00,382.60 C516.62,382.83 520.97,383.60 524.30,383.50 C527.63,383.40 530.27,382.85 533.00,382.00 C535.73,381.15 538.53,379.73 540.70,378.40 C542.87,377.07 544.30,375.70 546.00,374.00 C547.70,372.30 549.07,370.62 550.90,368.20 C552.73,365.78 554.97,362.25 557.00,359.50 C559.03,356.75 560.93,353.62 563.10,351.70 C565.27,349.78 567.62,348.85 570.00,348.00 C572.38,347.15 575.07,346.93 577.40,346.60 C579.73,346.27 581.62,346.10 584.00,346.00 C586.38,345.90 589.53,345.70 591.70,346.00 C593.87,346.30 595.28,346.85 597.00,347.80 C598.72,348.75 600.33,350.00 602.00,351.70 C603.67,353.40 605.30,355.62 607.00,358.00 C608.70,360.38 610.70,363.33 612.20,366.00 C613.70,368.67 614.63,371.17 616.00,374.00 C617.37,376.83 618.73,380.25 620.40,383.00 C622.07,385.75 623.97,388.55 626.00,390.50 C628.03,392.45 630.65,393.65 632.60,394.70 C634.55,395.75 636.85,396.45 637.70,396.80 L637.70,399.40 Z" fill="rgb(28,115,224)" fill-opacity="0.8" stroke="none" clip-path="url(#clipd)"/>
<path d="M419.20,399.40 L419.20,394.70 C420.33,393.83 423.68,391.20 426.00,389.50 C428.32,387.80 430.43,386.33 433.10,384.50 C435.77,382.67 438.75,380.03 442.00,378.50 C445.25,376.97 449.60,375.68 452.60,375.30 C455.60,374.92 457.45,375.68 460.00,376.20 C462.55,376.72 464.20,377.35 467.90,378.40 C471.60,379.45 478.18,381.75 482.20,382.50 C486.22,383.25 488.60,382.97 492.00,382.90 C495.40,382.83 499.10,382.15 502.60,382.10 C506.10,382.05 509.38,382.37 513.00,382.60 C516.62,382.83 520.97,383.60 524.30,383.50 C527.63,383.40 530.27,382.85 533.00,382.00 C535.73,381.15 538.53,379.73 540.70,378.40 C542.87,377.07 544.30,375.70 546.00,374.00 C547.70,372.30 549.07,370.62 550.90,368.20 C552.73,365.78 554.97,362.25 557.00,359.50 C559.03,356.75 560.93,353.62 563.10,351.70 C565.27,349.78 567.62,348.85 570.00,348.00 C572.38,347.15 575.07,346.93 577.40,346.60 C579.73,346.27 581.62,346.10 584.00,346.00 C586.38,345.90 589.53,345.70 591.70,346.00 C593.87,346.30 595.28,346.85 597.00,347.80 C598.72,348.75 600.33,350.00 602.00,351.70 C603.67,353.40 605.30,355.62 607.00,358.00 C608.70,360.38 610.70,363.33 612.20,366.00 C613.70,368.67 614.63,371.17 616.00,374.00 C617.37,376.83 618.73,380.25 620.40,383.00 C622.07,385.75 623.97,388.55 626.00,390.50 C628.03,392.45 630.65,393.65 632.60,394.70 C634.55,395.75 636.85,396.45 637.70,396.80 L637.70,399.40" fill="none" stroke="#111" stroke-width="0.95" stroke-linejoin="round" clip-path="url(#clipd)"/>
<path d="M419.20,429.50 L419.20,424.40 C420.50,423.42 424.33,420.38 427.00,418.50 C429.67,416.62 432.53,415.02 435.20,413.10 C437.87,411.18 440.28,408.63 443.00,407.00 C445.72,405.37 449.00,403.70 451.50,403.30 C454.00,402.90 455.62,403.82 458.00,404.60 C460.38,405.38 462.97,406.85 465.80,408.00 C468.63,409.15 471.93,410.58 475.00,411.50 C478.07,412.42 480.87,413.42 484.20,413.50 C487.53,413.58 491.25,412.57 495.00,412.00 C498.75,411.43 502.87,410.33 506.70,410.10 C510.53,409.87 514.38,410.43 518.00,410.60 C521.62,410.77 525.40,411.28 528.40,411.10 C531.40,410.92 533.62,410.35 536.00,409.50 C538.38,408.65 540.87,407.25 542.70,406.00 C544.53,404.75 545.63,403.53 547.00,402.00 C548.37,400.47 549.40,399.22 550.90,396.80 C552.40,394.38 554.30,390.57 556.00,387.50 C557.70,384.43 559.27,380.90 561.10,378.40 C562.93,375.90 564.78,373.87 567.00,372.50 C569.22,371.13 571.73,369.87 574.40,370.20 C577.07,370.53 580.12,372.45 583.00,374.50 C585.88,376.55 589.03,380.00 591.70,382.50 C594.37,385.00 596.62,387.12 599.00,389.50 C601.38,391.88 603.67,394.13 606.00,396.80 C608.33,399.47 610.60,402.60 613.00,405.50 C615.40,408.40 618.23,411.82 620.40,414.20 C622.57,416.58 624.30,418.27 626.00,419.80 C627.70,421.33 629.08,422.47 630.60,423.40 C632.12,424.33 634.35,425.07 635.10,425.40 L635.10,429.50 Z" fill="rgb(54,172,106)" fill-opacity="0.8" stroke="none" clip-path="url(#clipd)"/>
<path d="M419.20,429.50 L419.20,424.40 C420.50,423.42 424.33,420.38 427.00,418.50 C429.67,416.62 432.53,415.02 435.20,413.10 C437.87,411.18 440.28,408.63 443.00,407.00 C445.72,405.37 449.00,403.70 451.50,403.30 C454.00,402.90 455.62,403.82 458.00,404.60 C460.38,405.38 462.97,406.85 465.80,408.00 C468.63,409.15 471.93,410.58 475.00,411.50 C478.07,412.42 480.87,413.42 484.20,413.50 C487.53,413.58 491.25,412.57 495.00,412.00 C498.75,411.43 502.87,410.33 506.70,410.10 C510.53,409.87 514.38,410.43 518.00,410.60 C521.62,410.77 525.40,411.28 528.40,411.10 C531.40,410.92 533.62,410.35 536.00,409.50 C538.38,408.65 540.87,407.25 542.70,406.00 C544.53,404.75 545.63,403.53 547.00,402.00 C548.37,400.47 549.40,399.22 550.90,396.80 C552.40,394.38 554.30,390.57 556.00,387.50 C557.70,384.43 559.27,380.90 561.10,378.40 C562.93,375.90 564.78,373.87 567.00,372.50 C569.22,371.13 571.73,369.87 574.40,370.20 C577.07,370.53 580.12,372.45 583.00,374.50 C585.88,376.55 589.03,380.00 591.70,382.50 C594.37,385.00 596.62,387.12 599.00,389.50 C601.38,391.88 603.67,394.13 606.00,396.80 C608.33,399.47 610.60,402.60 613.00,405.50 C615.40,408.40 618.23,411.82 620.40,414.20 C622.57,416.58 624.30,418.27 626.00,419.80 C627.70,421.33 629.08,422.47 630.60,423.40 C632.12,424.33 634.35,425.07 635.10,425.40 L635.10,429.50" fill="none" stroke="#111" stroke-width="0.95" stroke-linejoin="round" clip-path="url(#clipd)"/>
<path d="M404.10,459.10 L404.10,457.70 C405.42,457.22 409.20,456.10 412.00,454.80 C414.80,453.50 418.40,451.95 420.90,449.90 C423.40,447.85 424.97,445.22 427.00,442.50 C429.03,439.78 430.93,436.43 433.10,433.60 C435.27,430.77 437.62,427.55 440.00,425.50 C442.38,423.45 445.07,421.62 447.40,421.30 C449.73,420.98 451.62,422.07 454.00,423.60 C456.38,425.13 459.20,428.35 461.70,430.50 C464.20,432.65 466.60,434.80 469.00,436.50 C471.40,438.20 472.53,439.55 476.10,440.70 C479.67,441.85 484.75,443.05 490.40,443.40 C496.05,443.75 505.07,442.57 510.00,442.80 C514.93,443.03 516.93,444.12 520.00,444.80 C523.07,445.48 525.90,446.78 528.40,446.90 C530.90,447.02 532.95,446.37 535.00,445.50 C537.05,444.63 538.87,443.25 540.70,441.70 C542.53,440.15 544.30,438.23 546.00,436.20 C547.70,434.17 549.23,431.87 550.90,429.50 C552.57,427.13 554.30,424.22 556.00,422.00 C557.70,419.78 559.27,417.73 561.10,416.20 C562.93,414.67 564.95,413.55 567.00,412.80 C569.05,412.05 570.57,411.67 573.40,411.70 C576.23,411.73 580.60,412.42 584.00,413.00 C587.40,413.58 591.13,414.03 593.80,415.20 C596.47,416.37 597.97,417.97 600.00,420.00 C602.03,422.03 603.83,424.65 606.00,427.40 C608.17,430.15 610.60,433.43 613.00,436.50 C615.40,439.57 618.23,443.38 620.40,445.80 C622.57,448.22 624.30,449.63 626.00,451.00 C627.70,452.37 628.75,453.15 630.60,454.00 C632.45,454.85 636.02,455.75 637.10,456.10 L637.10,459.10 Z" fill="rgb(176,116,224)" fill-opacity="0.8" stroke="none" clip-path="url(#clipd)"/>
<path d="M404.10,459.10 L404.10,457.70 C405.42,457.22 409.20,456.10 412.00,454.80 C414.80,453.50 418.40,451.95 420.90,449.90 C423.40,447.85 424.97,445.22 427.00,442.50 C429.03,439.78 430.93,436.43 433.10,433.60 C435.27,430.77 437.62,427.55 440.00,425.50 C442.38,423.45 445.07,421.62 447.40,421.30 C449.73,420.98 451.62,422.07 454.00,423.60 C456.38,425.13 459.20,428.35 461.70,430.50 C464.20,432.65 466.60,434.80 469.00,436.50 C471.40,438.20 472.53,439.55 476.10,440.70 C479.67,441.85 484.75,443.05 490.40,443.40 C496.05,443.75 505.07,442.57 510.00,442.80 C514.93,443.03 516.93,444.12 520.00,444.80 C523.07,445.48 525.90,446.78 528.40,446.90 C530.90,447.02 532.95,446.37 535.00,445.50 C537.05,444.63 538.87,443.25 540.70,441.70 C542.53,440.15 544.30,438.23 546.00,436.20 C547.70,434.17 549.23,431.87 550.90,429.50 C552.57,427.13 554.30,424.22 556.00,422.00 C557.70,419.78 559.27,417.73 561.10,416.20 C562.93,414.67 564.95,413.55 567.00,412.80 C569.05,412.05 570.57,411.67 573.40,411.70 C576.23,411.73 580.60,412.42 584.00,413.00 C587.40,413.58 591.13,414.03 593.80,415.20 C596.47,416.37 597.97,417.97 600.00,420.00 C602.03,422.03 603.83,424.65 606.00,427.40 C608.17,430.15 610.60,433.43 613.00,436.50 C615.40,439.57 618.23,443.38 620.40,445.80 C622.57,448.22 624.30,449.63 626.00,451.00 C627.70,452.37 628.75,453.15 630.60,454.00 C632.45,454.85 636.02,455.75 637.10,456.10 L637.10,459.10" fill="none" stroke="#111" stroke-width="0.95" stroke-linejoin="round" clip-path="url(#clipd)"/>
<path d="M415.40,488.90 L415.40,472.10 C416.17,470.67 418.40,466.22 420.00,463.50 C421.60,460.78 423.50,458.47 425.00,455.80 C426.50,453.13 427.65,450.07 429.00,447.50 C430.35,444.93 431.60,442.32 433.10,440.40 C434.60,438.48 436.28,437.02 438.00,436.00 C439.72,434.98 441.73,434.42 443.40,434.30 C445.07,434.18 446.30,434.45 448.00,435.30 C449.70,436.15 451.77,437.53 453.60,439.40 C455.43,441.27 456.97,443.60 459.00,446.50 C461.03,449.40 463.63,453.97 465.80,456.80 C467.97,459.63 469.95,461.63 472.00,463.50 C474.05,465.37 475.93,466.75 478.10,468.00 C480.27,469.25 482.78,470.32 485.00,471.00 C487.22,471.68 489.07,472.10 491.40,472.10 C493.73,472.10 496.45,471.33 499.00,471.00 C501.55,470.67 504.20,470.13 506.70,470.10 C509.20,470.07 511.78,470.47 514.00,470.80 C516.22,471.13 518.00,471.53 520.00,472.10 C522.00,472.67 523.92,473.62 526.00,474.20 C528.08,474.78 530.50,475.88 532.50,475.60 C534.50,475.32 535.97,473.93 538.00,472.50 C540.03,471.07 542.70,469.08 544.70,467.00 C546.70,464.92 548.28,462.22 550.00,460.00 C551.72,457.78 553.00,455.70 555.00,453.70 C557.00,451.70 559.62,449.37 562.00,448.00 C564.38,446.63 567.13,445.70 569.30,445.50 C571.47,445.30 572.97,445.93 575.00,446.80 C577.03,447.67 579.33,449.00 581.50,450.70 C583.67,452.40 585.95,454.62 588.00,457.00 C590.05,459.38 591.80,462.50 593.80,465.00 C595.80,467.50 597.97,469.80 600.00,472.00 C602.03,474.20 604.00,476.45 606.00,478.20 C608.00,479.95 609.95,481.37 612.00,482.50 C614.05,483.63 616.05,484.25 618.30,485.00 C620.55,485.75 624.30,486.67 625.50,487.00 L625.50,488.90 Z" fill="rgb(204,146,0)" fill-opacity="0.8" stroke="none" clip-path="url(#clipd)"/>
<path d="M415.40,488.90 L415.40,472.10 C416.17,470.67 418.40,466.22 420.00,463.50 C421.60,460.78 423.50,458.47 425.00,455.80 C426.50,453.13 427.65,450.07 429.00,447.50 C430.35,444.93 431.60,442.32 433.10,440.40 C434.60,438.48 436.28,437.02 438.00,436.00 C439.72,434.98 441.73,434.42 443.40,434.30 C445.07,434.18 446.30,434.45 448.00,435.30 C449.70,436.15 451.77,437.53 453.60,439.40 C455.43,441.27 456.97,443.60 459.00,446.50 C461.03,449.40 463.63,453.97 465.80,456.80 C467.97,459.63 469.95,461.63 472.00,463.50 C474.05,465.37 475.93,466.75 478.10,468.00 C480.27,469.25 482.78,470.32 485.00,471.00 C487.22,471.68 489.07,472.10 491.40,472.10 C493.73,472.10 496.45,471.33 499.00,471.00 C501.55,470.67 504.20,470.13 506.70,470.10 C509.20,470.07 511.78,470.47 514.00,470.80 C516.22,471.13 518.00,471.53 520.00,472.10 C522.00,472.67 523.92,473.62 526.00,474.20 C528.08,474.78 530.50,475.88 532.50,475.60 C534.50,475.32 535.97,473.93 538.00,472.50 C540.03,471.07 542.70,469.08 544.70,467.00 C546.70,464.92 548.28,462.22 550.00,460.00 C551.72,457.78 553.00,455.70 555.00,453.70 C557.00,451.70 559.62,449.37 562.00,448.00 C564.38,446.63 567.13,445.70 569.30,445.50 C571.47,445.30 572.97,445.93 575.00,446.80 C577.03,447.67 579.33,449.00 581.50,450.70 C583.67,452.40 585.95,454.62 588.00,457.00 C590.05,459.38 591.80,462.50 593.80,465.00 C595.80,467.50 597.97,469.80 600.00,472.00 C602.03,474.20 604.00,476.45 606.00,478.20 C608.00,479.95 609.95,481.37 612.00,482.50 C614.05,483.63 616.05,484.25 618.30,485.00 C620.55,485.75 624.30,486.67 625.50,487.00 L625.50,488.90" fill="none" stroke="#111" stroke-width="0.95" stroke-linejoin="round" clip-path="url(#clipd)"/>
<rect x="389.50" y="278.60" width="254.80" height="213.30" fill="none" stroke="#6a6a6a" stroke-width="0.9" />
<text x="384.40" y="329.48" font-size="11.0" text-anchor="end" fill="#222" textLength="38.6" lengthAdjust="spacingAndGlyphs" >GndHCl</text>
<text x="384.40" y="359.08" font-size="11.0" text-anchor="end" fill="#222" textLength="18.4" lengthAdjust="spacingAndGlyphs" >PBS</text>
<text x="384.40" y="388.38" font-size="11.0" text-anchor="end" fill="#222" textLength="42.6" lengthAdjust="spacingAndGlyphs" >SDS–Tris</text>
<text x="384.40" y="418.48" font-size="11.0" text-anchor="end" fill="#222" textLength="53.0" lengthAdjust="spacingAndGlyphs" >Urea–TEAB</text>
<text x="384.40" y="448.08" font-size="11.0" text-anchor="end" fill="#222" textLength="50.6" lengthAdjust="spacingAndGlyphs" >ACN–NaCl</text>
<text x="384.40" y="477.88" font-size="11.0" text-anchor="end" fill="#222" textLength="51.8" lengthAdjust="spacingAndGlyphs" >ACN–TEAB</text>
<line x1="389.60" y1="491.90" x2="389.60" y2="496.20" stroke="#6a6a6a" stroke-width="0.8" />
<text x="389.60" y="507.90" font-size="9.0" text-anchor="middle" fill="#222" >2</text>
<line x1="433.90" y1="491.90" x2="433.90" y2="496.20" stroke="#6a6a6a" stroke-width="0.8" />
<text x="433.90" y="507.90" font-size="9.0" text-anchor="middle" fill="#222" >4</text>
<line x1="478.20" y1="491.90" x2="478.20" y2="496.20" stroke="#6a6a6a" stroke-width="0.8" />
<text x="478.20" y="507.90" font-size="9.0" text-anchor="middle" fill="#222" >6</text>
<line x1="522.50" y1="491.90" x2="522.50" y2="496.20" stroke="#6a6a6a" stroke-width="0.8" />
<text x="522.50" y="507.90" font-size="9.0" text-anchor="middle" fill="#222" >8</text>
<line x1="566.80" y1="491.90" x2="566.80" y2="496.20" stroke="#6a6a6a" stroke-width="0.8" />
<text x="566.80" y="507.90" font-size="9.0" text-anchor="middle" fill="#222" >10</text>
<line x1="611.10" y1="491.90" x2="611.10" y2="496.20" stroke="#6a6a6a" stroke-width="0.8" />
<text x="611.10" y="507.90" font-size="9.0" text-anchor="middle" fill="#222" >12</text>
<text x="516.60" y="524.88" font-size="10.7" text-anchor="middle" fill="#222" textLength="78.3" lengthAdjust="spacingAndGlyphs" >Isoelectric point</text>
<clipPath id="clipe"><rect x="57.9" y="548.6" width="254.9" height="212.69999999999993"/></clipPath>
<path d="M102.10,610.10 L102.10,609.60 C103.45,609.33 107.15,608.43 110.20,608.00 C113.25,607.57 117.67,607.48 120.40,607.00 C123.13,606.52 124.38,606.27 126.60,605.10 C128.82,603.93 131.72,601.68 133.70,600.00 C135.68,598.32 136.78,596.48 138.50,595.00 C140.22,593.52 142.42,592.10 144.00,591.10 C145.58,590.10 146.63,589.52 148.00,589.00 C149.37,588.48 150.53,588.75 152.20,588.00 C153.87,587.25 155.97,586.03 158.00,584.50 C160.03,582.97 162.40,580.38 164.40,578.80 C166.40,577.22 167.95,576.35 170.00,575.00 C172.05,573.65 174.87,572.28 176.70,570.70 C178.53,569.12 179.78,567.12 181.00,565.50 C182.22,563.88 182.98,561.93 184.00,561.00 C185.02,560.07 186.02,559.65 187.10,559.90 C188.18,560.15 189.30,560.70 190.50,562.50 C191.70,564.30 193.22,568.03 194.30,570.70 C195.38,573.37 195.98,575.95 197.00,578.50 C198.02,581.05 199.07,583.50 200.40,586.00 C201.73,588.50 203.28,591.28 205.00,593.50 C206.72,595.72 209.03,597.75 210.70,599.30 C212.37,600.85 213.30,601.85 215.00,602.80 C216.70,603.75 218.40,604.20 220.90,605.00 C223.40,605.80 226.60,606.92 230.00,607.60 C233.40,608.28 236.30,608.73 241.30,609.10 C246.30,609.47 250.97,609.65 260.00,609.80 C269.03,609.95 289.58,609.97 295.50,610.00 L295.50,610.10 Z" fill="rgb(80,80,80)" fill-opacity="0.8" stroke="none" clip-path="url(#clipe)"/>
<path d="M102.10,610.10 L102.10,609.60 C103.45,609.33 107.15,608.43 110.20,608.00 C113.25,607.57 117.67,607.48 120.40,607.00 C123.13,606.52 124.38,606.27 126.60,605.10 C128.82,603.93 131.72,601.68 133.70,600.00 C135.68,598.32 136.78,596.48 138.50,595.00 C140.22,593.52 142.42,592.10 144.00,591.10 C145.58,590.10 146.63,589.52 148.00,589.00 C149.37,588.48 150.53,588.75 152.20,588.00 C153.87,587.25 155.97,586.03 158.00,584.50 C160.03,582.97 162.40,580.38 164.40,578.80 C166.40,577.22 167.95,576.35 170.00,575.00 C172.05,573.65 174.87,572.28 176.70,570.70 C178.53,569.12 179.78,567.12 181.00,565.50 C182.22,563.88 182.98,561.93 184.00,561.00 C185.02,560.07 186.02,559.65 187.10,559.90 C188.18,560.15 189.30,560.70 190.50,562.50 C191.70,564.30 193.22,568.03 194.30,570.70 C195.38,573.37 195.98,575.95 197.00,578.50 C198.02,581.05 199.07,583.50 200.40,586.00 C201.73,588.50 203.28,591.28 205.00,593.50 C206.72,595.72 209.03,597.75 210.70,599.30 C212.37,600.85 213.30,601.85 215.00,602.80 C216.70,603.75 218.40,604.20 220.90,605.00 C223.40,605.80 226.60,606.92 230.00,607.60 C233.40,608.28 236.30,608.73 241.30,609.10 C246.30,609.47 250.97,609.65 260.00,609.80 C269.03,609.95 289.58,609.97 295.50,610.00 L295.50,610.10" fill="none" stroke="#111" stroke-width="0.95" stroke-linejoin="round" clip-path="url(#clipe)"/>
<path d="M86.40,640.10 L86.40,640.00 C88.67,639.88 96.03,639.58 100.00,639.30 C103.97,639.02 106.80,638.63 110.20,638.30 C113.60,637.97 117.50,637.68 120.40,637.30 C123.30,636.92 125.72,636.68 127.60,636.00 C129.48,635.32 130.33,634.18 131.70,633.20 C133.07,632.22 134.27,631.03 135.80,630.10 C137.33,629.17 139.37,628.45 140.90,627.60 C142.43,626.75 143.65,626.20 145.00,625.00 C146.35,623.80 147.82,622.18 149.00,620.40 C150.18,618.62 151.23,616.17 152.10,614.30 C152.97,612.43 153.35,611.58 154.20,609.20 C155.05,606.82 156.30,602.95 157.20,600.00 C158.10,597.05 158.73,594.00 159.60,591.50 C160.47,589.00 161.50,586.65 162.40,585.00 C163.30,583.35 164.15,582.22 165.00,581.60 C165.85,580.98 166.58,580.73 167.50,581.30 C168.42,581.87 169.48,583.03 170.50,585.00 C171.52,586.97 172.52,590.60 173.60,593.10 C174.68,595.60 175.87,598.37 177.00,600.00 C178.13,601.63 179.32,602.98 180.40,602.90 C181.48,602.82 182.42,600.62 183.50,599.50 C184.58,598.38 185.95,596.78 186.90,596.20 C187.85,595.62 188.35,595.28 189.20,596.00 C190.05,596.72 190.98,598.25 192.00,600.50 C193.02,602.75 194.30,606.50 195.30,609.50 C196.30,612.50 197.15,615.78 198.00,618.50 C198.85,621.22 199.23,623.62 200.40,625.80 C201.57,627.98 203.28,630.07 205.00,631.60 C206.72,633.13 208.87,634.00 210.70,635.00 C212.53,636.00 213.97,636.92 216.00,637.60 C218.03,638.28 219.73,638.73 222.90,639.10 C226.07,639.47 230.73,639.65 235.00,639.80 C239.27,639.95 246.25,639.97 248.50,640.00 L248.50,640.10 Z" fill="rgb(239,61,61)" fill-opacity="0.8" stroke="none" clip-path="url(#clipe)"/>
<path d="M86.40,640.10 L86.40,640.00 C88.67,639.88 96.03,639.58 100.00,639.30 C103.97,639.02 106.80,638.63 110.20,638.30 C113.60,637.97 117.50,637.68 120.40,637.30 C123.30,636.92 125.72,636.68 127.60,636.00 C129.48,635.32 130.33,634.18 131.70,633.20 C133.07,632.22 134.27,631.03 135.80,630.10 C137.33,629.17 139.37,628.45 140.90,627.60 C142.43,626.75 143.65,626.20 145.00,625.00 C146.35,623.80 147.82,622.18 149.00,620.40 C150.18,618.62 151.23,616.17 152.10,614.30 C152.97,612.43 153.35,611.58 154.20,609.20 C155.05,606.82 156.30,602.95 157.20,600.00 C158.10,597.05 158.73,594.00 159.60,591.50 C160.47,589.00 161.50,586.65 162.40,585.00 C163.30,583.35 164.15,582.22 165.00,581.60 C165.85,580.98 166.58,580.73 167.50,581.30 C168.42,581.87 169.48,583.03 170.50,585.00 C171.52,586.97 172.52,590.60 173.60,593.10 C174.68,595.60 175.87,598.37 177.00,600.00 C178.13,601.63 179.32,602.98 180.40,602.90 C181.48,602.82 182.42,600.62 183.50,599.50 C184.58,598.38 185.95,596.78 186.90,596.20 C187.85,595.62 188.35,595.28 189.20,596.00 C190.05,596.72 190.98,598.25 192.00,600.50 C193.02,602.75 194.30,606.50 195.30,609.50 C196.30,612.50 197.15,615.78 198.00,618.50 C198.85,621.22 199.23,623.62 200.40,625.80 C201.57,627.98 203.28,630.07 205.00,631.60 C206.72,633.13 208.87,634.00 210.70,635.00 C212.53,636.00 213.97,636.92 216.00,637.60 C218.03,638.28 219.73,638.73 222.90,639.10 C226.07,639.47 230.73,639.65 235.00,639.80 C239.27,639.95 246.25,639.97 248.50,640.00 L248.50,640.10" fill="none" stroke="#111" stroke-width="0.95" stroke-linejoin="round" clip-path="url(#clipe)"/>
<path d="M84.50,669.80 L84.50,669.60 C86.58,669.53 92.85,669.42 97.00,669.20 C101.15,668.98 105.73,668.82 109.40,668.30 C113.07,667.78 115.93,666.97 119.00,666.10 C122.07,665.23 125.30,664.23 127.80,663.10 C130.30,661.97 131.82,660.83 134.00,659.30 C136.18,657.77 138.73,655.82 140.90,653.90 C143.07,651.98 144.80,650.00 147.00,647.80 C149.20,645.60 152.27,642.97 154.10,640.70 C155.93,638.43 156.68,636.60 158.00,634.20 C159.32,631.80 160.87,628.17 162.00,626.30 C163.13,624.43 163.85,623.67 164.80,623.00 C165.75,622.33 166.67,622.00 167.70,622.30 C168.73,622.60 169.55,623.05 171.00,624.80 C172.45,626.55 174.90,631.37 176.40,632.80 C177.90,634.23 178.47,633.53 180.00,633.40 C181.53,633.27 184.10,631.80 185.60,632.00 C187.10,632.20 187.68,633.37 189.00,634.60 C190.32,635.83 192.17,637.57 193.50,639.40 C194.83,641.23 195.68,643.42 197.00,645.60 C198.32,647.78 199.73,650.22 201.40,652.50 C203.07,654.78 204.82,657.45 207.00,659.30 C209.18,661.15 211.87,662.32 214.50,663.60 C217.13,664.88 219.38,666.22 222.80,667.00 C226.22,667.78 230.92,667.95 235.00,668.30 C239.08,668.65 242.80,668.88 247.30,669.10 C251.80,669.32 256.75,669.48 262.00,669.60 C267.25,669.72 273.80,669.77 278.80,669.80 C283.80,669.83 287.47,669.87 292.00,669.80 C296.53,669.73 303.67,669.47 306.00,669.40 L306.00,669.80 Z" fill="rgb(28,115,224)" fill-opacity="0.8" stroke="none" clip-path="url(#clipe)"/>
<path d="M84.50,669.80 L84.50,669.60 C86.58,669.53 92.85,669.42 97.00,669.20 C101.15,668.98 105.73,668.82 109.40,668.30 C113.07,667.78 115.93,666.97 119.00,666.10 C122.07,665.23 125.30,664.23 127.80,663.10 C130.30,661.97 131.82,660.83 134.00,659.30 C136.18,657.77 138.73,655.82 140.90,653.90 C143.07,651.98 144.80,650.00 147.00,647.80 C149.20,645.60 152.27,642.97 154.10,640.70 C155.93,638.43 156.68,636.60 158.00,634.20 C159.32,631.80 160.87,628.17 162.00,626.30 C163.13,624.43 163.85,623.67 164.80,623.00 C165.75,622.33 166.67,622.00 167.70,622.30 C168.73,622.60 169.55,623.05 171.00,624.80 C172.45,626.55 174.90,631.37 176.40,632.80 C177.90,634.23 178.47,633.53 180.00,633.40 C181.53,633.27 184.10,631.80 185.60,632.00 C187.10,632.20 187.68,633.37 189.00,634.60 C190.32,635.83 192.17,637.57 193.50,639.40 C194.83,641.23 195.68,643.42 197.00,645.60 C198.32,647.78 199.73,650.22 201.40,652.50 C203.07,654.78 204.82,657.45 207.00,659.30 C209.18,661.15 211.87,662.32 214.50,663.60 C217.13,664.88 219.38,666.22 222.80,667.00 C226.22,667.78 230.92,667.95 235.00,668.30 C239.08,668.65 242.80,668.88 247.30,669.10 C251.80,669.32 256.75,669.45 262.00,669.60 C267.25,669.75 273.80,669.97 278.80,670.00 C283.80,670.03 287.47,669.90 292.00,669.80 C296.53,669.70 303.67,669.47 306.00,669.40 L306.00,669.80" fill="none" stroke="#111" stroke-width="0.95" stroke-linejoin="round" clip-path="url(#clipe)"/>
<path d="M83.70,699.40 L83.70,698.60 C85.92,698.55 92.72,698.43 97.00,698.30 C101.28,698.17 106.23,698.10 109.40,697.80 C112.57,697.50 113.82,697.02 116.00,696.50 C118.18,695.98 120.50,695.20 122.50,694.70 C124.50,694.20 126.23,693.85 128.00,693.50 C129.77,693.15 131.43,693.28 133.10,692.60 C134.77,691.92 136.25,690.80 138.00,689.40 C139.75,688.00 141.77,686.00 143.60,684.20 C145.43,682.40 147.25,680.37 149.00,678.60 C150.75,676.83 152.60,674.93 154.10,673.60 C155.60,672.27 156.68,671.47 158.00,670.60 C159.32,669.73 160.67,669.47 162.00,668.40 C163.33,667.33 164.70,665.73 166.00,664.20 C167.30,662.67 168.55,660.20 169.80,659.20 C171.05,658.20 172.18,658.33 173.50,658.20 C174.82,658.07 176.28,658.53 177.70,658.40 C179.12,658.27 180.78,658.20 182.00,657.40 C183.22,656.60 183.97,654.48 185.00,653.60 C186.03,652.72 187.12,651.87 188.20,652.10 C189.28,652.33 190.18,653.17 191.50,655.00 C192.82,656.83 194.68,660.40 196.10,663.10 C197.52,665.80 198.68,668.38 200.00,671.20 C201.32,674.02 202.53,677.32 204.00,680.00 C205.47,682.68 206.55,685.07 208.80,687.30 C211.05,689.53 214.58,691.88 217.50,693.40 C220.42,694.92 221.92,695.67 226.30,696.40 C230.68,697.13 238.55,697.37 243.80,697.80 C249.05,698.23 250.10,698.73 257.80,699.00 C265.50,699.27 280.63,699.33 290.00,699.40 C299.37,699.47 310.00,699.40 314.00,699.40 L314.00,699.40 Z" fill="rgb(54,172,106)" fill-opacity="0.8" stroke="none" clip-path="url(#clipe)"/>
<path d="M83.70,699.40 L83.70,698.60 C85.92,698.55 92.72,698.43 97.00,698.30 C101.28,698.17 106.23,698.10 109.40,697.80 C112.57,697.50 113.82,697.02 116.00,696.50 C118.18,695.98 120.50,695.20 122.50,694.70 C124.50,694.20 126.23,693.85 128.00,693.50 C129.77,693.15 131.43,693.28 133.10,692.60 C134.77,691.92 136.25,690.80 138.00,689.40 C139.75,688.00 141.77,686.00 143.60,684.20 C145.43,682.40 147.25,680.37 149.00,678.60 C150.75,676.83 152.60,674.93 154.10,673.60 C155.60,672.27 156.68,671.47 158.00,670.60 C159.32,669.73 160.67,669.47 162.00,668.40 C163.33,667.33 164.70,665.73 166.00,664.20 C167.30,662.67 168.55,660.20 169.80,659.20 C171.05,658.20 172.18,658.33 173.50,658.20 C174.82,658.07 176.28,658.53 177.70,658.40 C179.12,658.27 180.78,658.20 182.00,657.40 C183.22,656.60 183.97,654.48 185.00,653.60 C186.03,652.72 187.12,651.87 188.20,652.10 C189.28,652.33 190.18,653.17 191.50,655.00 C192.82,656.83 194.68,660.40 196.10,663.10 C197.52,665.80 198.68,668.38 200.00,671.20 C201.32,674.02 202.53,677.32 204.00,680.00 C205.47,682.68 206.55,685.07 208.80,687.30 C211.05,689.53 214.58,691.88 217.50,693.40 C220.42,694.92 221.92,695.67 226.30,696.40 C230.68,697.13 238.55,697.37 243.80,697.80 C249.05,698.23 250.10,698.73 257.80,699.00 C265.50,699.27 280.63,699.32 290.00,699.40 C299.37,699.48 310.00,699.48 314.00,699.50 L314.00,699.40" fill="none" stroke="#111" stroke-width="0.95" stroke-linejoin="round" clip-path="url(#clipe)"/>
<path d="M92.30,728.40 L92.30,728.30 C93.75,728.18 98.15,727.95 101.00,727.60 C103.85,727.25 106.90,726.88 109.40,726.20 C111.90,725.52 113.82,724.60 116.00,723.50 C118.18,722.40 120.50,721.08 122.50,719.60 C124.50,718.12 126.23,716.13 128.00,714.60 C129.77,713.07 131.60,711.43 133.10,710.40 C134.60,709.37 135.70,708.92 137.00,708.40 C138.30,707.88 139.57,707.60 140.90,707.30 C142.23,707.00 143.68,706.95 145.00,706.60 C146.32,706.25 147.55,706.37 148.80,705.20 C150.05,704.03 151.18,701.80 152.50,699.60 C153.82,697.40 155.28,694.33 156.70,692.00 C158.12,689.67 159.47,687.13 161.00,685.60 C162.53,684.07 164.32,682.57 165.90,682.80 C167.48,683.03 168.97,685.02 170.50,687.00 C172.03,688.98 173.52,692.73 175.10,694.70 C176.68,696.67 178.25,697.72 180.00,698.80 C181.75,699.88 184.02,700.43 185.60,701.20 C187.18,701.97 188.18,702.52 189.50,703.40 C190.82,704.28 191.75,704.93 193.50,706.50 C195.25,708.07 197.82,710.83 200.00,712.80 C202.18,714.77 204.27,716.72 206.60,718.30 C208.93,719.88 211.37,721.20 214.00,722.30 C216.63,723.40 218.07,724.13 222.40,724.90 C226.73,725.67 232.62,726.37 240.00,726.90 C247.38,727.43 262.25,727.90 266.70,728.10 L266.70,728.40 Z" fill="rgb(176,116,224)" fill-opacity="0.8" stroke="none" clip-path="url(#clipe)"/>
<path d="M92.30,728.40 L92.30,728.30 C93.75,728.18 98.15,727.95 101.00,727.60 C103.85,727.25 106.90,726.88 109.40,726.20 C111.90,725.52 113.82,724.60 116.00,723.50 C118.18,722.40 120.50,721.08 122.50,719.60 C124.50,718.12 126.23,716.13 128.00,714.60 C129.77,713.07 131.60,711.43 133.10,710.40 C134.60,709.37 135.70,708.92 137.00,708.40 C138.30,707.88 139.57,707.60 140.90,707.30 C142.23,707.00 143.68,706.95 145.00,706.60 C146.32,706.25 147.55,706.37 148.80,705.20 C150.05,704.03 151.18,701.80 152.50,699.60 C153.82,697.40 155.28,694.33 156.70,692.00 C158.12,689.67 159.47,687.13 161.00,685.60 C162.53,684.07 164.32,682.57 165.90,682.80 C167.48,683.03 168.97,685.02 170.50,687.00 C172.03,688.98 173.52,692.73 175.10,694.70 C176.68,696.67 178.25,697.72 180.00,698.80 C181.75,699.88 184.02,700.43 185.60,701.20 C187.18,701.97 188.18,702.52 189.50,703.40 C190.82,704.28 191.75,704.93 193.50,706.50 C195.25,708.07 197.82,710.83 200.00,712.80 C202.18,714.77 204.27,716.72 206.60,718.30 C208.93,719.88 211.37,721.20 214.00,722.30 C216.63,723.40 218.07,724.13 222.40,724.90 C226.73,725.67 232.62,726.37 240.00,726.90 C247.38,727.43 262.25,727.90 266.70,728.10 L266.70,728.40" fill="none" stroke="#111" stroke-width="0.95" stroke-linejoin="round" clip-path="url(#clipe)"/>
<path d="M86.00,758.60 L86.00,758.50 C88.17,758.28 94.78,757.75 99.00,757.20 C103.22,756.65 108.05,755.82 111.30,755.20 C114.55,754.58 116.12,754.18 118.50,753.50 C120.88,752.82 123.60,752.27 125.60,751.10 C127.60,749.93 128.78,748.20 130.50,746.50 C132.22,744.80 134.23,742.48 135.90,740.90 C137.57,739.32 138.80,738.02 140.50,737.00 C142.20,735.98 143.52,735.70 146.10,734.80 C148.68,733.90 152.60,732.77 156.00,731.60 C159.40,730.43 163.75,728.40 166.50,727.80 C169.25,727.20 170.45,727.87 172.50,728.00 C174.55,728.13 176.55,728.80 178.80,728.60 C181.05,728.40 183.62,727.48 186.00,726.80 C188.38,726.12 191.02,724.63 193.10,724.50 C195.18,724.37 196.80,724.97 198.50,726.00 C200.20,727.03 201.58,728.68 203.30,730.70 C205.02,732.72 207.02,735.55 208.80,738.10 C210.58,740.65 212.25,743.95 214.00,746.00 C215.75,748.05 216.97,749.15 219.30,750.40 C221.63,751.65 223.63,752.37 228.00,753.50 C232.37,754.63 239.33,756.42 245.50,757.20 C251.67,757.98 257.72,758.00 265.00,758.20 C272.28,758.40 285.17,758.37 289.20,758.40 L289.20,758.60 Z" fill="rgb(204,146,0)" fill-opacity="0.8" stroke="none" clip-path="url(#clipe)"/>
<path d="M86.00,758.60 L86.00,758.50 C88.17,758.28 94.78,757.75 99.00,757.20 C103.22,756.65 108.05,755.82 111.30,755.20 C114.55,754.58 116.12,754.18 118.50,753.50 C120.88,752.82 123.60,752.27 125.60,751.10 C127.60,749.93 128.78,748.20 130.50,746.50 C132.22,744.80 134.23,742.48 135.90,740.90 C137.57,739.32 138.80,738.02 140.50,737.00 C142.20,735.98 143.52,735.70 146.10,734.80 C148.68,733.90 152.60,732.77 156.00,731.60 C159.40,730.43 163.75,728.40 166.50,727.80 C169.25,727.20 170.45,727.87 172.50,728.00 C174.55,728.13 176.55,728.80 178.80,728.60 C181.05,728.40 183.62,727.48 186.00,726.80 C188.38,726.12 191.02,724.63 193.10,724.50 C195.18,724.37 196.80,724.97 198.50,726.00 C200.20,727.03 201.58,728.68 203.30,730.70 C205.02,732.72 207.02,735.55 208.80,738.10 C210.58,740.65 212.25,743.95 214.00,746.00 C215.75,748.05 216.97,749.15 219.30,750.40 C221.63,751.65 223.63,752.37 228.00,753.50 C232.37,754.63 239.33,756.42 245.50,757.20 C251.67,757.98 257.72,758.00 265.00,758.20 C272.28,758.40 285.17,758.37 289.20,758.40 L289.20,758.60" fill="none" stroke="#111" stroke-width="0.95" stroke-linejoin="round" clip-path="url(#clipe)"/>
<rect x="57.90" y="548.60" width="254.90" height="212.70" fill="none" stroke="#6a6a6a" stroke-width="0.9" />
<text x="52.00" y="592.88" font-size="11.0" text-anchor="end" fill="#222" textLength="38.6" lengthAdjust="spacingAndGlyphs" >GndHCl</text>
<text x="52.00" y="622.88" font-size="11.0" text-anchor="end" fill="#222" textLength="18.4" lengthAdjust="spacingAndGlyphs" >PBS</text>
<text x="52.00" y="652.58" font-size="11.0" text-anchor="end" fill="#222" textLength="42.6" lengthAdjust="spacingAndGlyphs" >SDS–Tris</text>
<text x="52.00" y="682.18" font-size="11.0" text-anchor="end" fill="#222" textLength="53.0" lengthAdjust="spacingAndGlyphs" >Urea–TEAB</text>
<text x="52.00" y="711.18" font-size="11.0" text-anchor="end" fill="#222" textLength="50.6" lengthAdjust="spacingAndGlyphs" >ACN–NaCl</text>
<text x="52.00" y="741.38" font-size="11.0" text-anchor="end" fill="#222" textLength="51.8" lengthAdjust="spacingAndGlyphs" >ACN–TEAB</text>
<line x1="85.80" y1="761.30" x2="85.80" y2="765.60" stroke="#6a6a6a" stroke-width="0.8" />
<text x="85.80" y="776.80" font-size="9.0" text-anchor="middle" fill="#222" >−2</text>
<line x1="141.10" y1="761.30" x2="141.10" y2="765.60" stroke="#6a6a6a" stroke-width="0.8" />
<text x="141.10" y="776.80" font-size="9.0" text-anchor="middle" fill="#222" >−1</text>
<line x1="196.40" y1="761.30" x2="196.40" y2="765.60" stroke="#6a6a6a" stroke-width="0.8" />
<text x="196.40" y="776.80" font-size="9.0" text-anchor="middle" fill="#222" >0</text>
<line x1="251.70" y1="761.30" x2="251.70" y2="765.60" stroke="#6a6a6a" stroke-width="0.8" />
<text x="251.70" y="776.80" font-size="9.0" text-anchor="middle" fill="#222" >1</text>
<line x1="307.00" y1="761.30" x2="307.00" y2="765.60" stroke="#6a6a6a" stroke-width="0.8" />
<text x="307.00" y="776.80" font-size="9.0" text-anchor="middle" fill="#222" >2</text>
<text x="185.00" y="792.78" font-size="10.7" text-anchor="middle" fill="#222" textLength="63" lengthAdjust="spacingAndGlyphs" >GRAVY score</text>
<g shape-rendering="crispEdges">
<rect x="393.00" y="555.40" width="12.27" height="11.81" fill="#dce670"/>
<rect x="404.87" y="555.40" width="12.27" height="11.81" fill="#ccdc6a"/>
<rect x="416.74" y="555.40" width="12.27" height="11.81" fill="#e0e874"/>
<rect x="428.62" y="555.40" width="12.27" height="11.81" fill="#9cc454"/>
<rect x="440.49" y="555.40" width="12.27" height="11.81" fill="#9cc454"/>
<rect x="452.36" y="555.40" width="12.27" height="11.81" fill="#a0c458"/>
<rect x="464.23" y="555.40" width="12.27" height="11.81" fill="#ff8c14"/>
<rect x="476.11" y="555.40" width="12.27" height="11.81" fill="#ffa028"/>
<rect x="487.98" y="555.40" width="12.27" height="11.81" fill="#ffc04c"/>
<rect x="499.85" y="555.40" width="12.27" height="11.81" fill="#ffa028"/>
<rect x="511.72" y="555.40" width="12.27" height="11.81" fill="#ffa42c"/>
<rect x="523.59" y="555.40" width="12.27" height="11.81" fill="#ffa028"/>
<rect x="535.47" y="555.40" width="12.27" height="11.81" fill="#ffa028"/>
<rect x="547.34" y="555.40" width="12.27" height="11.81" fill="#ffa028"/>
<rect x="559.21" y="555.40" width="12.27" height="11.81" fill="#ffa028"/>
<rect x="571.08" y="555.40" width="12.27" height="11.81" fill="#c86400"/>
<rect x="582.96" y="555.40" width="12.27" height="11.81" fill="#cc6400"/>
<rect x="594.83" y="555.40" width="12.27" height="11.81" fill="#5c2c00"/>
<rect x="393.00" y="566.81" width="12.27" height="11.81" fill="#d8e470"/>
<rect x="404.87" y="566.81" width="12.27" height="11.81" fill="#cce070"/>
<rect x="416.74" y="566.81" width="12.27" height="11.81" fill="#e0e878"/>
<rect x="428.62" y="566.81" width="12.27" height="11.81" fill="#98c050"/>
<rect x="440.49" y="566.81" width="12.27" height="11.81" fill="#94bc50"/>
<rect x="452.36" y="566.81" width="12.27" height="11.81" fill="#a0c458"/>
<rect x="464.23" y="566.81" width="12.27" height="11.81" fill="#ff9820"/>
<rect x="476.11" y="566.81" width="12.27" height="11.81" fill="#ffa028"/>
<rect x="487.98" y="566.81" width="12.27" height="11.81" fill="#ffc04c"/>
<rect x="499.85" y="566.81" width="12.27" height="11.81" fill="#ff9c24"/>
<rect x="511.72" y="566.81" width="12.27" height="11.81" fill="#ff9820"/>
<rect x="523.59" y="566.81" width="12.27" height="11.81" fill="#ff9820"/>
<rect x="535.47" y="566.81" width="12.27" height="11.81" fill="#ff9820"/>
<rect x="547.34" y="566.81" width="12.27" height="11.81" fill="#ff9418"/>
<rect x="559.21" y="566.81" width="12.27" height="11.81" fill="#ff9418"/>
<rect x="571.08" y="566.81" width="12.27" height="11.81" fill="#c06000"/>
<rect x="582.96" y="566.81" width="12.27" height="11.81" fill="#5c2c00"/>
<rect x="594.83" y="566.81" width="12.27" height="11.81" fill="#ff9820"/>
<rect x="393.00" y="578.22" width="12.27" height="11.81" fill="#dce874"/>
<rect x="404.87" y="578.22" width="12.27" height="11.81" fill="#c0d868"/>
<rect x="416.74" y="578.22" width="12.27" height="11.81" fill="#d8e474"/>
<rect x="428.62" y="578.22" width="12.27" height="11.81" fill="#8cbc50"/>
<rect x="440.49" y="578.22" width="12.27" height="11.81" fill="#98c050"/>
<rect x="452.36" y="578.22" width="12.27" height="11.81" fill="#9cc454"/>
<rect x="464.23" y="578.22" width="12.27" height="11.81" fill="#ff8c14"/>
<rect x="476.11" y="578.22" width="12.27" height="11.81" fill="#ff9c24"/>
<rect x="487.98" y="578.22" width="12.27" height="11.81" fill="#ffc04c"/>
<rect x="499.85" y="578.22" width="12.27" height="11.81" fill="#ffa02c"/>
<rect x="511.72" y="578.22" width="12.27" height="11.81" fill="#ffa02c"/>
<rect x="523.59" y="578.22" width="12.27" height="11.81" fill="#ff9c24"/>
<rect x="535.47" y="578.22" width="12.27" height="11.81" fill="#ffa028"/>
<rect x="547.34" y="578.22" width="12.27" height="11.81" fill="#ff9c24"/>
<rect x="559.21" y="578.22" width="12.27" height="11.81" fill="#ff9c24"/>
<rect x="571.08" y="578.22" width="12.27" height="11.81" fill="#5c2c00"/>
<rect x="582.96" y="578.22" width="12.27" height="11.81" fill="#ff8c10"/>
<rect x="594.83" y="578.22" width="12.27" height="11.81" fill="#ff9820"/>
<rect x="393.00" y="589.63" width="12.27" height="11.81" fill="#ffdc60"/>
<rect x="404.87" y="589.63" width="12.27" height="11.81" fill="#f0f478"/>
<rect x="416.74" y="589.63" width="12.27" height="11.81" fill="#f0f478"/>
<rect x="428.62" y="589.63" width="12.27" height="11.81" fill="#b0d05c"/>
<rect x="440.49" y="589.63" width="12.27" height="11.81" fill="#b0d05c"/>
<rect x="452.36" y="589.63" width="12.27" height="11.81" fill="#a4c858"/>
<rect x="464.23" y="589.63" width="12.27" height="11.81" fill="#ffa830"/>
<rect x="476.11" y="589.63" width="12.27" height="11.81" fill="#ffb03c"/>
<rect x="487.98" y="589.63" width="12.27" height="11.81" fill="#ffc850"/>
<rect x="499.85" y="589.63" width="12.27" height="11.81" fill="#ff8c10"/>
<rect x="511.72" y="589.63" width="12.27" height="11.81" fill="#ff9418"/>
<rect x="523.59" y="589.63" width="12.27" height="11.81" fill="#ff9418"/>
<rect x="535.47" y="589.63" width="12.27" height="11.81" fill="#c86000"/>
<rect x="547.34" y="589.63" width="12.27" height="11.81" fill="#c86000"/>
<rect x="559.21" y="589.63" width="12.27" height="11.81" fill="#5c2c00"/>
<rect x="571.08" y="589.63" width="12.27" height="11.81" fill="#ffff78"/>
<rect x="582.96" y="589.63" width="12.27" height="11.81" fill="#fff070"/>
<rect x="594.83" y="589.63" width="12.27" height="11.81" fill="#ffe868"/>
<rect x="393.00" y="601.04" width="12.27" height="11.81" fill="#ffe064"/>
<rect x="404.87" y="601.04" width="12.27" height="11.81" fill="#f0f47c"/>
<rect x="416.74" y="601.04" width="12.27" height="11.81" fill="#ecf47c"/>
<rect x="428.62" y="601.04" width="12.27" height="11.81" fill="#a8cc58"/>
<rect x="440.49" y="601.04" width="12.27" height="11.81" fill="#acd05c"/>
<rect x="452.36" y="601.04" width="12.27" height="11.81" fill="#a4c858"/>
<rect x="464.23" y="601.04" width="12.27" height="11.81" fill="#ffb03c"/>
<rect x="476.11" y="601.04" width="12.27" height="11.81" fill="#ffb840"/>
<rect x="487.98" y="601.04" width="12.27" height="11.81" fill="#ffd058"/>
<rect x="499.85" y="601.04" width="12.27" height="11.81" fill="#ff9014"/>
<rect x="511.72" y="601.04" width="12.27" height="11.81" fill="#ff9014"/>
<rect x="523.59" y="601.04" width="12.27" height="11.81" fill="#ff9014"/>
<rect x="535.47" y="601.04" width="12.27" height="11.81" fill="#c86000"/>
<rect x="547.34" y="601.04" width="12.27" height="11.81" fill="#5c2c00"/>
<rect x="559.21" y="601.04" width="12.27" height="11.81" fill="#ff9820"/>
<rect x="571.08" y="601.04" width="12.27" height="11.81" fill="#fff070"/>
<rect x="582.96" y="601.04" width="12.27" height="11.81" fill="#ffe064"/>
<rect x="594.83" y="601.04" width="12.27" height="11.81" fill="#ffe464"/>
<rect x="393.00" y="612.46" width="12.27" height="11.81" fill="#fff070"/>
<rect x="404.87" y="612.46" width="12.27" height="11.81" fill="#e8f078"/>
<rect x="416.74" y="612.46" width="12.27" height="11.81" fill="#ffff78"/>
<rect x="428.62" y="612.46" width="12.27" height="11.81" fill="#a8cc58"/>
<rect x="440.49" y="612.46" width="12.27" height="11.81" fill="#b8d460"/>
<rect x="452.36" y="612.46" width="12.27" height="11.81" fill="#b0d05c"/>
<rect x="464.23" y="612.46" width="12.27" height="11.81" fill="#ffb03c"/>
<rect x="476.11" y="612.46" width="12.27" height="11.81" fill="#ffb840"/>
<rect x="487.98" y="612.46" width="12.27" height="11.81" fill="#ffd860"/>
<rect x="499.85" y="612.46" width="12.27" height="11.81" fill="#ff8408"/>
<rect x="511.72" y="612.46" width="12.27" height="11.81" fill="#ff8c10"/>
<rect x="523.59" y="612.46" width="12.27" height="11.81" fill="#ff8c10"/>
<rect x="535.47" y="612.46" width="12.27" height="11.81" fill="#5c2c00"/>
<rect x="547.34" y="612.46" width="12.27" height="11.81" fill="#ff8c10"/>
<rect x="559.21" y="612.46" width="12.27" height="11.81" fill="#ff9418"/>
<rect x="571.08" y="612.46" width="12.27" height="11.81" fill="#ffff70"/>
<rect x="582.96" y="612.46" width="12.27" height="11.81" fill="#ffe064"/>
<rect x="594.83" y="612.46" width="12.27" height="11.81" fill="#ffe868"/>
<rect x="393.00" y="623.87" width="12.27" height="11.81" fill="#ffff78"/>
<rect x="404.87" y="623.87" width="12.27" height="11.81" fill="#d8e874"/>
<rect x="416.74" y="623.87" width="12.27" height="11.81" fill="#d0e470"/>
<rect x="428.62" y="623.87" width="12.27" height="11.81" fill="#a0c858"/>
<rect x="440.49" y="623.87" width="12.27" height="11.81" fill="#a0c858"/>
<rect x="452.36" y="623.87" width="12.27" height="11.81" fill="#8cbc48"/>
<rect x="464.23" y="623.87" width="12.27" height="11.81" fill="#ffa02c"/>
<rect x="476.11" y="623.87" width="12.27" height="11.81" fill="#ffb03c"/>
<rect x="487.98" y="623.87" width="12.27" height="11.81" fill="#ffc84c"/>
<rect x="499.85" y="623.87" width="12.27" height="11.81" fill="#cc6400"/>
<rect x="511.72" y="623.87" width="12.27" height="11.81" fill="#cc6400"/>
<rect x="523.59" y="623.87" width="12.27" height="11.81" fill="#5c2c00"/>
<rect x="535.47" y="623.87" width="12.27" height="11.81" fill="#ffff78"/>
<rect x="547.34" y="623.87" width="12.27" height="11.81" fill="#fff478"/>
<rect x="559.21" y="623.87" width="12.27" height="11.81" fill="#fff070"/>
<rect x="571.08" y="623.87" width="12.27" height="11.81" fill="#e8f078"/>
<rect x="582.96" y="623.87" width="12.27" height="11.81" fill="#f0f47c"/>
<rect x="594.83" y="623.87" width="12.27" height="11.81" fill="#e8f078"/>
<rect x="393.00" y="635.28" width="12.27" height="11.81" fill="#ffff7c"/>
<rect x="404.87" y="635.28" width="12.27" height="11.81" fill="#e0ec78"/>
<rect x="416.74" y="635.28" width="12.27" height="11.81" fill="#dcec78"/>
<rect x="428.62" y="635.28" width="12.27" height="11.81" fill="#98c450"/>
<rect x="440.49" y="635.28" width="12.27" height="11.81" fill="#98c450"/>
<rect x="452.36" y="635.28" width="12.27" height="11.81" fill="#8cbc48"/>
<rect x="464.23" y="635.28" width="12.27" height="11.81" fill="#ffa830"/>
<rect x="476.11" y="635.28" width="12.27" height="11.81" fill="#ffa830"/>
<rect x="487.98" y="635.28" width="12.27" height="11.81" fill="#ffc84c"/>
<rect x="499.85" y="635.28" width="12.27" height="11.81" fill="#c06000"/>
<rect x="511.72" y="635.28" width="12.27" height="11.81" fill="#5c2c00"/>
<rect x="523.59" y="635.28" width="12.27" height="11.81" fill="#ffa028"/>
<rect x="535.47" y="635.28" width="12.27" height="11.81" fill="#ffff78"/>
<rect x="547.34" y="635.28" width="12.27" height="11.81" fill="#ffec70"/>
<rect x="559.21" y="635.28" width="12.27" height="11.81" fill="#ffec70"/>
<rect x="571.08" y="635.28" width="12.27" height="11.81" fill="#e8f078"/>
<rect x="582.96" y="635.28" width="12.27" height="11.81" fill="#ffff78"/>
<rect x="594.83" y="635.28" width="12.27" height="11.81" fill="#f0f47c"/>
<rect x="393.00" y="646.69" width="12.27" height="11.81" fill="#ffe468"/>
<rect x="404.87" y="646.69" width="12.27" height="11.81" fill="#e4f07c"/>
<rect x="416.74" y="646.69" width="12.27" height="11.81" fill="#e0ec78"/>
<rect x="428.62" y="646.69" width="12.27" height="11.81" fill="#b0d060"/>
<rect x="440.49" y="646.69" width="12.27" height="11.81" fill="#a8cc58"/>
<rect x="452.36" y="646.69" width="12.27" height="11.81" fill="#8cbc48"/>
<rect x="464.23" y="646.69" width="12.27" height="11.81" fill="#ffa02c"/>
<rect x="476.11" y="646.69" width="12.27" height="11.81" fill="#ffa830"/>
<rect x="487.98" y="646.69" width="12.27" height="11.81" fill="#ffc04c"/>
<rect x="499.85" y="646.69" width="12.27" height="11.81" fill="#5c2c00"/>
<rect x="511.72" y="646.69" width="12.27" height="11.81" fill="#ffa028"/>
<rect x="523.59" y="646.69" width="12.27" height="11.81" fill="#ffa028"/>
<rect x="535.47" y="646.69" width="12.27" height="11.81" fill="#ecf47c"/>
<rect x="547.34" y="646.69" width="12.27" height="11.81" fill="#fff478"/>
<rect x="559.21" y="646.69" width="12.27" height="11.81" fill="#ffff78"/>
<rect x="571.08" y="646.69" width="12.27" height="11.81" fill="#dcec78"/>
<rect x="582.96" y="646.69" width="12.27" height="11.81" fill="#ecf47c"/>
<rect x="594.83" y="646.69" width="12.27" height="11.81" fill="#e8f078"/>
<rect x="393.00" y="658.10" width="12.27" height="11.81" fill="#d4e470"/>
<rect x="404.87" y="658.10" width="12.27" height="11.81" fill="#c4dc68"/>
<rect x="416.74" y="658.10" width="12.27" height="11.81" fill="#c8dc6c"/>
<rect x="428.62" y="658.10" width="12.27" height="11.81" fill="#98c454"/>
<rect x="440.49" y="658.10" width="12.27" height="11.81" fill="#90bc4c"/>
<rect x="452.36" y="658.10" width="12.27" height="11.81" fill="#8cb848"/>
<rect x="464.23" y="658.10" width="12.27" height="11.81" fill="#dc6c00"/>
<rect x="476.11" y="658.10" width="12.27" height="11.81" fill="#c05c00"/>
<rect x="487.98" y="658.10" width="12.27" height="11.81" fill="#5c2c00"/>
<rect x="499.85" y="658.10" width="12.27" height="11.81" fill="#a8cc5c"/>
<rect x="511.72" y="658.10" width="12.27" height="11.81" fill="#a8cc5c"/>
<rect x="523.59" y="658.10" width="12.27" height="11.81" fill="#a8cc5c"/>
<rect x="535.47" y="658.10" width="12.27" height="11.81" fill="#b8d464"/>
<rect x="547.34" y="658.10" width="12.27" height="11.81" fill="#b8d464"/>
<rect x="559.21" y="658.10" width="12.27" height="11.81" fill="#b8d464"/>
<rect x="571.08" y="658.10" width="12.27" height="11.81" fill="#b4d464"/>
<rect x="582.96" y="658.10" width="12.27" height="11.81" fill="#c8e06c"/>
<rect x="594.83" y="658.10" width="12.27" height="11.81" fill="#c0dc68"/>
<rect x="393.00" y="669.51" width="12.27" height="11.81" fill="#cce070"/>
<rect x="404.87" y="669.51" width="12.27" height="11.81" fill="#cce070"/>
<rect x="416.74" y="669.51" width="12.27" height="11.81" fill="#d4e474"/>
<rect x="428.62" y="669.51" width="12.27" height="11.81" fill="#a0c858"/>
<rect x="440.49" y="669.51" width="12.27" height="11.81" fill="#98c450"/>
<rect x="452.36" y="669.51" width="12.27" height="11.81" fill="#b0d060"/>
<rect x="464.23" y="669.51" width="12.27" height="11.81" fill="#e87400"/>
<rect x="476.11" y="669.51" width="12.27" height="11.81" fill="#5c2c00"/>
<rect x="487.98" y="669.51" width="12.27" height="11.81" fill="#ff9c24"/>
<rect x="499.85" y="669.51" width="12.27" height="11.81" fill="#bcd868"/>
<rect x="511.72" y="669.51" width="12.27" height="11.81" fill="#c4dc6c"/>
<rect x="523.59" y="669.51" width="12.27" height="11.81" fill="#c4dc6c"/>
<rect x="535.47" y="669.51" width="12.27" height="11.81" fill="#cce070"/>
<rect x="547.34" y="669.51" width="12.27" height="11.81" fill="#d8e874"/>
<rect x="559.21" y="669.51" width="12.27" height="11.81" fill="#c8e06c"/>
<rect x="571.08" y="669.51" width="12.27" height="11.81" fill="#c0dc68"/>
<rect x="582.96" y="669.51" width="12.27" height="11.81" fill="#d4e470"/>
<rect x="594.83" y="669.51" width="12.27" height="11.81" fill="#d8e874"/>
<rect x="393.00" y="680.92" width="12.27" height="11.81" fill="#d0e470"/>
<rect x="404.87" y="680.92" width="12.27" height="11.81" fill="#d4e474"/>
<rect x="416.74" y="680.92" width="12.27" height="11.81" fill="#d8e874"/>
<rect x="428.62" y="680.92" width="12.27" height="11.81" fill="#b4d464"/>
<rect x="440.49" y="680.92" width="12.27" height="11.81" fill="#acd05c"/>
<rect x="452.36" y="680.92" width="12.27" height="11.81" fill="#b4d464"/>
<rect x="464.23" y="680.92" width="12.27" height="11.81" fill="#5c2c00"/>
<rect x="476.11" y="680.92" width="12.27" height="11.81" fill="#ffa830"/>
<rect x="487.98" y="680.92" width="12.27" height="11.81" fill="#ffa028"/>
<rect x="499.85" y="680.92" width="12.27" height="11.81" fill="#c4dc6c"/>
<rect x="511.72" y="680.92" width="12.27" height="11.81" fill="#d0e470"/>
<rect x="523.59" y="680.92" width="12.27" height="11.81" fill="#d0e470"/>
<rect x="535.47" y="680.92" width="12.27" height="11.81" fill="#d4e470"/>
<rect x="547.34" y="680.92" width="12.27" height="11.81" fill="#e0ec78"/>
<rect x="559.21" y="680.92" width="12.27" height="11.81" fill="#e0ec78"/>
<rect x="571.08" y="680.92" width="12.27" height="11.81" fill="#d8e874"/>
<rect x="582.96" y="680.92" width="12.27" height="11.81" fill="#dce874"/>
<rect x="594.83" y="680.92" width="12.27" height="11.81" fill="#e0ec78"/>
<rect x="393.00" y="692.33" width="12.27" height="11.81" fill="#f0f47c"/>
<rect x="404.87" y="692.33" width="12.27" height="11.81" fill="#d0e470"/>
<rect x="416.74" y="692.33" width="12.27" height="11.81" fill="#c8e06c"/>
<rect x="428.62" y="692.33" width="12.27" height="11.81" fill="#e06c00"/>
<rect x="440.49" y="692.33" width="12.27" height="11.81" fill="#e06c00"/>
<rect x="452.36" y="692.33" width="12.27" height="11.81" fill="#5c2c00"/>
<rect x="464.23" y="692.33" width="12.27" height="11.81" fill="#146c0c"/>
<rect x="476.11" y="692.33" width="12.27" height="11.81" fill="#106408"/>
<rect x="487.98" y="692.33" width="12.27" height="11.81" fill="#046004"/>
<rect x="499.85" y="692.33" width="12.27" height="11.81" fill="#005800"/>
<rect x="511.72" y="692.33" width="12.27" height="11.81" fill="#005800"/>
<rect x="523.59" y="692.33" width="12.27" height="11.81" fill="#005800"/>
<rect x="535.47" y="692.33" width="12.27" height="11.81" fill="#086004"/>
<rect x="547.34" y="692.33" width="12.27" height="11.81" fill="#106408"/>
<rect x="559.21" y="692.33" width="12.27" height="11.81" fill="#106408"/>
<rect x="571.08" y="692.33" width="12.27" height="11.81" fill="#045c00"/>
<rect x="582.96" y="692.33" width="12.27" height="11.81" fill="#0c6404"/>
<rect x="594.83" y="692.33" width="12.27" height="11.81" fill="#0c6404"/>
<rect x="393.00" y="703.74" width="12.27" height="11.81" fill="#ecf47c"/>
<rect x="404.87" y="703.74" width="12.27" height="11.81" fill="#d4e870"/>
<rect x="416.74" y="703.74" width="12.27" height="11.81" fill="#d8e874"/>
<rect x="428.62" y="703.74" width="12.27" height="11.81" fill="#ff8408"/>
<rect x="440.49" y="703.74" width="12.27" height="11.81" fill="#5c2c00"/>
<rect x="452.36" y="703.74" width="12.27" height="11.81" fill="#ffa830"/>
<rect x="464.23" y="703.74" width="12.27" height="11.81" fill="#0c6404"/>
<rect x="476.11" y="703.74" width="12.27" height="11.81" fill="#0c6404"/>
<rect x="487.98" y="703.74" width="12.27" height="11.81" fill="#0c6404"/>
<rect x="499.85" y="703.74" width="12.27" height="11.81" fill="#046004"/>
<rect x="511.72" y="703.74" width="12.27" height="11.81" fill="#005c00"/>
<rect x="523.59" y="703.74" width="12.27" height="11.81" fill="#005c00"/>
<rect x="535.47" y="703.74" width="12.27" height="11.81" fill="#287420"/>
<rect x="547.34" y="703.74" width="12.27" height="11.81" fill="#1c6c14"/>
<rect x="559.21" y="703.74" width="12.27" height="11.81" fill="#1c6c14"/>
<rect x="571.08" y="703.74" width="12.27" height="11.81" fill="#146808"/>
<rect x="582.96" y="703.74" width="12.27" height="11.81" fill="#106408"/>
<rect x="594.83" y="703.74" width="12.27" height="11.81" fill="#146808"/>
<rect x="393.00" y="715.16" width="12.27" height="11.81" fill="#e4f078"/>
<rect x="404.87" y="715.16" width="12.27" height="11.81" fill="#c8e06c"/>
<rect x="416.74" y="715.16" width="12.27" height="11.81" fill="#d8e874"/>
<rect x="428.62" y="715.16" width="12.27" height="11.81" fill="#5c2c00"/>
<rect x="440.49" y="715.16" width="12.27" height="11.81" fill="#ffb83c"/>
<rect x="452.36" y="715.16" width="12.27" height="11.81" fill="#ffa830"/>
<rect x="464.23" y="715.16" width="12.27" height="11.81" fill="#0c6404"/>
<rect x="476.11" y="715.16" width="12.27" height="11.81" fill="#005c00"/>
<rect x="487.98" y="715.16" width="12.27" height="11.81" fill="#0c6404"/>
<rect x="499.85" y="715.16" width="12.27" height="11.81" fill="#046004"/>
<rect x="511.72" y="715.16" width="12.27" height="11.81" fill="#005c00"/>
<rect x="523.59" y="715.16" width="12.27" height="11.81" fill="#005c00"/>
<rect x="535.47" y="715.16" width="12.27" height="11.81" fill="#207014"/>
<rect x="547.34" y="715.16" width="12.27" height="11.81" fill="#207014"/>
<rect x="559.21" y="715.16" width="12.27" height="11.81" fill="#207014"/>
<rect x="571.08" y="715.16" width="12.27" height="11.81" fill="#146808"/>
<rect x="582.96" y="715.16" width="12.27" height="11.81" fill="#106408"/>
<rect x="594.83" y="715.16" width="12.27" height="11.81" fill="#146808"/>
<rect x="393.00" y="726.57" width="12.27" height="11.81" fill="#c86000"/>
<rect x="404.87" y="726.57" width="12.27" height="11.81" fill="#b85800"/>
<rect x="416.74" y="726.57" width="12.27" height="11.81" fill="#5c2c00"/>
<rect x="428.62" y="726.57" width="12.27" height="11.81" fill="#3c8c2c"/>
<rect x="440.49" y="726.57" width="12.27" height="11.81" fill="#3c8c2c"/>
<rect x="452.36" y="726.57" width="12.27" height="11.81" fill="#3c8824"/>
<rect x="464.23" y="726.57" width="12.27" height="11.81" fill="#64a038"/>
<rect x="476.11" y="726.57" width="12.27" height="11.81" fill="#64a038"/>
<rect x="487.98" y="726.57" width="12.27" height="11.81" fill="#5c9c34"/>
<rect x="499.85" y="726.57" width="12.27" height="11.81" fill="#84b444"/>
<rect x="511.72" y="726.57" width="12.27" height="11.81" fill="#8cb848"/>
<rect x="523.59" y="726.57" width="12.27" height="11.81" fill="#7cb040"/>
<rect x="535.47" y="726.57" width="12.27" height="11.81" fill="#90bc4c"/>
<rect x="547.34" y="726.57" width="12.27" height="11.81" fill="#98c050"/>
<rect x="559.21" y="726.57" width="12.27" height="11.81" fill="#98c050"/>
<rect x="571.08" y="726.57" width="12.27" height="11.81" fill="#6ca83c"/>
<rect x="582.96" y="726.57" width="12.27" height="11.81" fill="#7cb040"/>
<rect x="594.83" y="726.57" width="12.27" height="11.81" fill="#7cb040"/>
<rect x="393.00" y="737.98" width="12.27" height="11.81" fill="#dc6c00"/>
<rect x="404.87" y="737.98" width="12.27" height="11.81" fill="#5c2c00"/>
<rect x="416.74" y="737.98" width="12.27" height="11.81" fill="#ffa028"/>
<rect x="428.62" y="737.98" width="12.27" height="11.81" fill="#3c8c2c"/>
<rect x="440.49" y="737.98" width="12.27" height="11.81" fill="#449430"/>
<rect x="452.36" y="737.98" width="12.27" height="11.81" fill="#3c8824"/>
<rect x="464.23" y="737.98" width="12.27" height="11.81" fill="#64a038"/>
<rect x="476.11" y="737.98" width="12.27" height="11.81" fill="#64a038"/>
<rect x="487.98" y="737.98" width="12.27" height="11.81" fill="#5c9c34"/>
<rect x="499.85" y="737.98" width="12.27" height="11.81" fill="#84b444"/>
<rect x="511.72" y="737.98" width="12.27" height="11.81" fill="#7cb040"/>
<rect x="523.59" y="737.98" width="12.27" height="11.81" fill="#8cb848"/>
<rect x="535.47" y="737.98" width="12.27" height="11.81" fill="#98c050"/>
<rect x="547.34" y="737.98" width="12.27" height="11.81" fill="#a0c454"/>
<rect x="559.21" y="737.98" width="12.27" height="11.81" fill="#a0c454"/>
<rect x="571.08" y="737.98" width="12.27" height="11.81" fill="#6ca83c"/>
<rect x="582.96" y="737.98" width="12.27" height="11.81" fill="#6ca83c"/>
<rect x="594.83" y="737.98" width="12.27" height="11.81" fill="#7cb040"/>
<rect x="393.00" y="749.39" width="12.27" height="11.81" fill="#5c2c00"/>
<rect x="404.87" y="749.39" width="12.27" height="11.81" fill="#ffa830"/>
<rect x="416.74" y="749.39" width="12.27" height="11.81" fill="#ffa028"/>
<rect x="428.62" y="749.39" width="12.27" height="11.81" fill="#3c8c2c"/>
<rect x="440.49" y="749.39" width="12.27" height="11.81" fill="#4c9834"/>
<rect x="452.36" y="749.39" width="12.27" height="11.81" fill="#448c2c"/>
<rect x="464.23" y="749.39" width="12.27" height="11.81" fill="#5c9c34"/>
<rect x="476.11" y="749.39" width="12.27" height="11.81" fill="#64a038"/>
<rect x="487.98" y="749.39" width="12.27" height="11.81" fill="#64a038"/>
<rect x="499.85" y="749.39" width="12.27" height="11.81" fill="#8cb848"/>
<rect x="511.72" y="749.39" width="12.27" height="11.81" fill="#90bc4c"/>
<rect x="523.59" y="749.39" width="12.27" height="11.81" fill="#90bc4c"/>
<rect x="535.47" y="749.39" width="12.27" height="11.81" fill="#b0d060"/>
<rect x="547.34" y="749.39" width="12.27" height="11.81" fill="#b8d464"/>
<rect x="559.21" y="749.39" width="12.27" height="11.81" fill="#b0d060"/>
<rect x="571.08" y="749.39" width="12.27" height="11.81" fill="#84b444"/>
<rect x="582.96" y="749.39" width="12.27" height="11.81" fill="#84b444"/>
<rect x="594.83" y="749.39" width="12.27" height="11.81" fill="#8cb848"/>
</g>
<rect x="393.00" y="555.40" width="213.70" height="205.40" fill="none" stroke="#444" stroke-width="0.8" />
<line x1="388.70" y1="572.52" x2="393.00" y2="572.52" stroke="#6a6a6a" stroke-width="0.8" />
<text x="384.50" y="576.30" font-size="11.0" text-anchor="end" fill="#222" textLength="49.0" lengthAdjust="spacingAndGlyphs" >Urea–ABC</text>
<line x1="388.70" y1="606.75" x2="393.00" y2="606.75" stroke="#6a6a6a" stroke-width="0.8" />
<text x="384.50" y="610.53" font-size="11.0" text-anchor="end" fill="#222" textLength="42.6" lengthAdjust="spacingAndGlyphs" >SDS–Tris</text>
<line x1="388.70" y1="640.98" x2="393.00" y2="640.98" stroke="#6a6a6a" stroke-width="0.8" />
<text x="384.50" y="644.77" font-size="11.0" text-anchor="end" fill="#222" textLength="18.4" lengthAdjust="spacingAndGlyphs" >PBS</text>
<line x1="388.70" y1="675.22" x2="393.00" y2="675.22" stroke="#6a6a6a" stroke-width="0.8" />
<text x="384.50" y="679.00" font-size="11.0" text-anchor="end" fill="#222" textLength="38.6" lengthAdjust="spacingAndGlyphs" >GndHCl</text>
<line x1="388.70" y1="709.45" x2="393.00" y2="709.45" stroke="#6a6a6a" stroke-width="0.8" />
<text x="384.50" y="713.23" font-size="11.0" text-anchor="end" fill="#222" textLength="51.8" lengthAdjust="spacingAndGlyphs" >ACN–TEAB</text>
<line x1="388.70" y1="743.68" x2="393.00" y2="743.68" stroke="#6a6a6a" stroke-width="0.8" />
<text x="384.50" y="747.47" font-size="11.0" text-anchor="end" fill="#222" textLength="50.6" lengthAdjust="spacingAndGlyphs" >ACN–NaCl</text>
<line x1="410.81" y1="760.80" x2="410.81" y2="765.10" stroke="#6a6a6a" stroke-width="0.8" />
<line x1="446.43" y1="760.80" x2="446.43" y2="765.10" stroke="#6a6a6a" stroke-width="0.8" />
<line x1="482.04" y1="760.80" x2="482.04" y2="765.10" stroke="#6a6a6a" stroke-width="0.8" />
<line x1="517.66" y1="760.80" x2="517.66" y2="765.10" stroke="#6a6a6a" stroke-width="0.8" />
<line x1="553.28" y1="760.80" x2="553.28" y2="765.10" stroke="#6a6a6a" stroke-width="0.8" />
<line x1="588.89" y1="760.80" x2="588.89" y2="765.10" stroke="#6a6a6a" stroke-width="0.8" />
<text x="416.81" y="775.40" font-size="11.0" text-anchor="end" fill="#222" textLength="50.6" lengthAdjust="spacingAndGlyphs" transform="rotate(-45 416.81 775.40)">ACN–NaCl</text>
<text x="452.43" y="775.40" font-size="11.0" text-anchor="end" fill="#222" textLength="51.8" lengthAdjust="spacingAndGlyphs" transform="rotate(-45 452.43 775.40)">ACN–TEAB</text>
<text x="488.04" y="775.40" font-size="11.0" text-anchor="end" fill="#222" textLength="38.6" lengthAdjust="spacingAndGlyphs" transform="rotate(-45 488.04 775.40)">GndHCl</text>
<text x="523.66" y="775.40" font-size="11.0" text-anchor="end" fill="#222" textLength="18.4" lengthAdjust="spacingAndGlyphs" transform="rotate(-45 523.66 775.40)">PBS</text>
<text x="559.28" y="775.40" font-size="11.0" text-anchor="end" fill="#222" textLength="42.6" lengthAdjust="spacingAndGlyphs" transform="rotate(-45 559.28 775.40)">SDS–Tris</text>
<text x="594.89" y="775.40" font-size="11.0" text-anchor="end" fill="#222" textLength="49.0" lengthAdjust="spacingAndGlyphs" transform="rotate(-45 594.89 775.40)">Urea–ABC</text>
<text x="502.90" y="551.78" font-size="11.0" text-anchor="middle" fill="#222" textLength="85.2" lengthAdjust="spacingAndGlyphs" >Protein accession</text>
<text x="615.1" y="658.4" font-size="11" text-anchor="middle" fill="#222" textLength="53.5" lengthAdjust="spacingAndGlyphs" transform="rotate(90 615.1 658.4)" dy="3.8">Proteoform</text>
<defs><linearGradient id="cbg" x1="0" y1="0" x2="0" y2="1"><stop offset="0.0" stop-color="#5a3210"/><stop offset="0.11" stop-color="#8a4a14"/><stop offset="0.19" stop-color="#c06010"/><stop offset="0.24" stop-color="#f07808"/><stop offset="0.29" stop-color="#ff8c20"/><stop offset="0.37" stop-color="#ffb048"/><stop offset="0.435" stop-color="#ffd868"/><stop offset="0.5" stop-color="#ffff80"/><stop offset="0.565" stop-color="#e8f088"/><stop offset="0.63" stop-color="#c8dc78"/><stop offset="0.695" stop-color="#a8c868"/><stop offset="0.76" stop-color="#80b050"/><stop offset="0.825" stop-color="#609840"/><stop offset="0.89" stop-color="#3c7c28"/><stop offset="1.0" stop-color="#0c5808"/></linearGradient></defs>
<rect x="632.20" y="582.00" width="14.70" height="178.20" fill="url(#cbg)" stroke="#444" stroke-width="0.7" />
<line x1="646.90" y1="582.00" x2="650.10" y2="582.00" stroke="#6a6a6a" stroke-width="0.8" />
<text x="655.50" y="585.23" font-size="9.4" text-anchor="start" fill="#222" textLength="15.899999999999999" lengthAdjust="spacingAndGlyphs" >100</text>
<line x1="646.90" y1="615.90" x2="650.10" y2="615.90" stroke="#6a6a6a" stroke-width="0.8" />
<text x="655.50" y="619.13" font-size="9.4" text-anchor="start" fill="#222" textLength="10.6" lengthAdjust="spacingAndGlyphs" >83</text>
<line x1="646.90" y1="652.20" x2="650.10" y2="652.20" stroke="#6a6a6a" stroke-width="0.8" />
<text x="655.50" y="655.43" font-size="9.4" text-anchor="start" fill="#222" textLength="10.6" lengthAdjust="spacingAndGlyphs" >64</text>
<line x1="646.90" y1="687.70" x2="650.10" y2="687.70" stroke="#6a6a6a" stroke-width="0.8" />
<text x="655.50" y="690.93" font-size="9.4" text-anchor="start" fill="#222" textLength="10.6" lengthAdjust="spacingAndGlyphs" >46</text>
<line x1="646.90" y1="725.20" x2="650.10" y2="725.20" stroke="#6a6a6a" stroke-width="0.8" />
<text x="655.50" y="728.43" font-size="9.4" text-anchor="start" fill="#222" textLength="10.6" lengthAdjust="spacingAndGlyphs" >27</text>
<line x1="646.90" y1="759.60" x2="650.10" y2="759.60" stroke="#6a6a6a" stroke-width="0.8" />
<text x="655.50" y="762.83" font-size="9.4" text-anchor="start" fill="#222" textLength="5.3" lengthAdjust="spacingAndGlyphs" >9</text>
<text x="650.50" y="557.98" font-size="11.0" text-anchor="middle" fill="#222" textLength="38.8" lengthAdjust="spacingAndGlyphs" >Overlap</text>
<text x="650.00" y="570.78" font-size="11.0" text-anchor="middle" fill="#222" textLength="68.8" lengthAdjust="spacingAndGlyphs" >coefficient (%)</text></svg>
</body></html>
